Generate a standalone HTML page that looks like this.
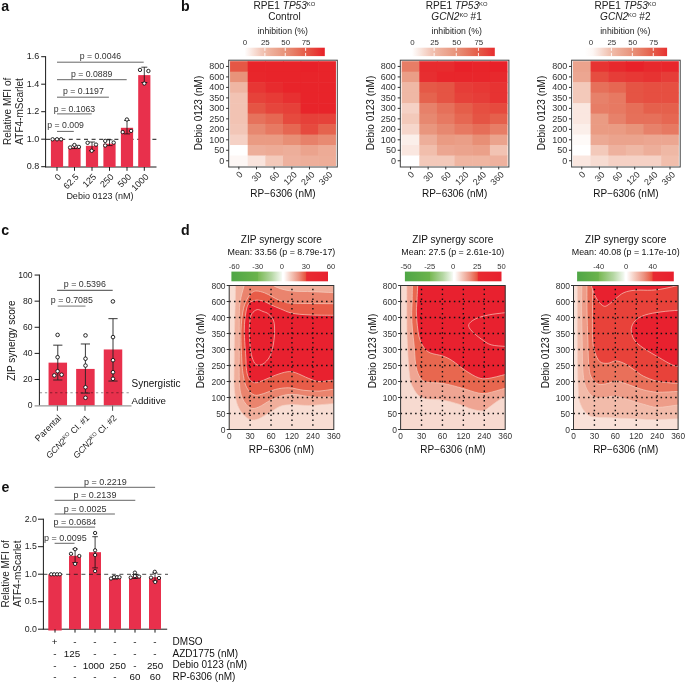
<!DOCTYPE html>
<html><head><meta charset="utf-8"><style>
html,body{margin:0;padding:0;background:#fff;}
svg{display:block;will-change:transform;}
text{font-family:"Liberation Sans", sans-serif;}
</style></head><body>
<svg width="685" height="683" viewBox="0 0 685 683" font-family='"Liberation Sans", sans-serif'>
<defs><linearGradient id="hg0" x1="0" x2="1" y1="0" y2="0"><stop offset="0.00" stop-color="#ffffff"/><stop offset="0.10" stop-color="#f9e4dd"/><stop offset="0.20" stop-color="#f3c9bb"/><stop offset="0.30" stop-color="#efb4a0"/><stop offset="0.40" stop-color="#eba48e"/><stop offset="0.50" stop-color="#e8947b"/><stop offset="0.60" stop-color="#e77f68"/><stop offset="0.70" stop-color="#e66954"/><stop offset="0.80" stop-color="#e55243"/><stop offset="0.90" stop-color="#e73935"/><stop offset="1.00" stop-color="#e82028"/></linearGradient><linearGradient id="hg1" x1="0" x2="1" y1="0" y2="0"><stop offset="0.00" stop-color="#ffffff"/><stop offset="0.10" stop-color="#f9e6df"/><stop offset="0.20" stop-color="#f4ccbf"/><stop offset="0.30" stop-color="#efb6a3"/><stop offset="0.40" stop-color="#eca792"/><stop offset="0.50" stop-color="#e99880"/><stop offset="0.60" stop-color="#e7866e"/><stop offset="0.70" stop-color="#e6715b"/><stop offset="0.80" stop-color="#e55c48"/><stop offset="0.90" stop-color="#e6453c"/><stop offset="1.00" stop-color="#e72d2f"/></linearGradient><linearGradient id="hg2" x1="0" x2="1" y1="0" y2="0"><stop offset="0.00" stop-color="#ffffff"/><stop offset="0.10" stop-color="#fdf7f5"/><stop offset="0.20" stop-color="#f7dcd3"/><stop offset="0.30" stop-color="#f1c2b1"/><stop offset="0.40" stop-color="#eeaf9b"/><stop offset="0.50" stop-color="#ea9f89"/><stop offset="0.60" stop-color="#e88e76"/><stop offset="0.70" stop-color="#e77962"/><stop offset="0.80" stop-color="#e5634e"/><stop offset="0.90" stop-color="#e64b3f"/><stop offset="1.00" stop-color="#e73232"/></linearGradient><clipPath id="dclip0"><rect x="229.20" y="285.5" width="104.6" height="144.0"/></clipPath><linearGradient id="dg0" x1="0" x2="1" y1="0" y2="0"><stop offset="0.000" stop-color="#4FA646"/><stop offset="0.270" stop-color="#6AB34B"/><stop offset="0.278" stop-color="#79B955"/><stop offset="0.414" stop-color="#B5D7A3"/><stop offset="0.519" stop-color="#F4F9F2"/><stop offset="0.527" stop-color="#ffffff"/><stop offset="0.543" stop-color="#ffffff"/><stop offset="0.616" stop-color="#F5CABD"/><stop offset="0.696" stop-color="#EC9280"/><stop offset="0.767" stop-color="#E8553F"/><stop offset="0.779" stop-color="#E82A31"/><stop offset="1.000" stop-color="#E8202E"/></linearGradient><clipPath id="dclip1"><rect x="400.60" y="285.5" width="104.6" height="144.0"/></clipPath><linearGradient id="dg1" x1="0" x2="1" y1="0" y2="0"><stop offset="0.000" stop-color="#4FA646"/><stop offset="0.255" stop-color="#6AB34B"/><stop offset="0.263" stop-color="#79B955"/><stop offset="0.393" stop-color="#B5D7A3"/><stop offset="0.493" stop-color="#F4F9F2"/><stop offset="0.501" stop-color="#ffffff"/><stop offset="0.517" stop-color="#ffffff"/><stop offset="0.593" stop-color="#F5CABD"/><stop offset="0.675" stop-color="#EC9280"/><stop offset="0.749" stop-color="#E8553F"/><stop offset="0.761" stop-color="#E82A31"/><stop offset="1.000" stop-color="#E8202E"/></linearGradient><clipPath id="dclip2"><rect x="573.50" y="285.5" width="104.6" height="144.0"/></clipPath><linearGradient id="dg2" x1="0" x2="1" y1="0" y2="0"><stop offset="0.000" stop-color="#4FA646"/><stop offset="0.220" stop-color="#6AB34B"/><stop offset="0.228" stop-color="#79B955"/><stop offset="0.374" stop-color="#B5D7A3"/><stop offset="0.487" stop-color="#F4F9F2"/><stop offset="0.495" stop-color="#ffffff"/><stop offset="0.511" stop-color="#ffffff"/><stop offset="0.597" stop-color="#F5CABD"/><stop offset="0.690" stop-color="#EC9280"/><stop offset="0.774" stop-color="#E8553F"/><stop offset="0.786" stop-color="#E82A31"/><stop offset="1.000" stop-color="#E8202E"/></linearGradient></defs>
<rect width="685" height="683" fill="#fff"/>
<text x="1.20" y="11.00" font-size="14.2" text-anchor="start" fill="#111" font-weight="bold">a</text>
<text x="181.00" y="11.00" font-size="14.2" text-anchor="start" fill="#111" font-weight="bold">b</text>
<text x="1.20" y="235.30" font-size="14.2" text-anchor="start" fill="#111" font-weight="bold">c</text>
<text x="181.00" y="235.30" font-size="14.2" text-anchor="start" fill="#111" font-weight="bold">d</text>
<text x="1.60" y="491.80" font-size="14.2" text-anchor="start" fill="#111" font-weight="bold">e</text>
<line x1="45.60" y1="56.20" x2="45.60" y2="167.20" stroke="#1a1a1a" stroke-width="1"/>
<line x1="45.10" y1="167.00" x2="156.50" y2="167.00" stroke="#1a1a1a" stroke-width="1"/>
<line x1="41.20" y1="166.70" x2="45.60" y2="166.70" stroke="#1a1a1a" stroke-width="1"/>
<text x="39.30" y="169.30" font-size="9" text-anchor="end" fill="#222">0.8</text>
<line x1="41.20" y1="139.20" x2="45.60" y2="139.20" stroke="#1a1a1a" stroke-width="1"/>
<text x="39.30" y="141.80" font-size="9" text-anchor="end" fill="#222">1.0</text>
<line x1="41.20" y1="111.70" x2="45.60" y2="111.70" stroke="#1a1a1a" stroke-width="1"/>
<text x="39.30" y="114.30" font-size="9" text-anchor="end" fill="#222">1.2</text>
<line x1="41.20" y1="84.20" x2="45.60" y2="84.20" stroke="#1a1a1a" stroke-width="1"/>
<text x="39.30" y="86.80" font-size="9" text-anchor="end" fill="#222">1.4</text>
<line x1="41.20" y1="56.70" x2="45.60" y2="56.70" stroke="#1a1a1a" stroke-width="1"/>
<text x="39.30" y="59.30" font-size="9" text-anchor="end" fill="#222">1.6</text>
<line x1="46.00" y1="139.30" x2="160.00" y2="139.30" stroke="#1a1a1a" stroke-width="1" stroke-dasharray="4 3.6"/>
<rect x="50.90" y="139.20" width="12.20" height="27.80" fill="#E8304C"/>
<rect x="68.40" y="147.45" width="12.20" height="19.55" fill="#E8304C"/>
<rect x="85.90" y="145.80" width="12.20" height="21.20" fill="#E8304C"/>
<rect x="103.40" y="143.74" width="12.20" height="23.26" fill="#E8304C"/>
<rect x="120.90" y="127.79" width="12.20" height="39.21" fill="#E8304C"/>
<rect x="138.20" y="75.12" width="12.20" height="91.88" fill="#E8304C"/>
<line x1="74.50" y1="145.30" x2="74.50" y2="148.60" stroke="#111" stroke-width="0.8"/>
<line x1="71.50" y1="145.30" x2="77.50" y2="145.30" stroke="#111" stroke-width="0.8"/>
<line x1="71.50" y1="148.60" x2="77.50" y2="148.60" stroke="#111" stroke-width="0.8"/>
<line x1="92.00" y1="142.00" x2="92.00" y2="150.60" stroke="#111" stroke-width="0.8"/>
<line x1="89.00" y1="142.00" x2="95.00" y2="142.00" stroke="#111" stroke-width="0.8"/>
<line x1="89.00" y1="150.60" x2="95.00" y2="150.60" stroke="#111" stroke-width="0.8"/>
<line x1="109.50" y1="139.80" x2="109.50" y2="145.60" stroke="#111" stroke-width="0.8"/>
<line x1="106.50" y1="139.80" x2="112.50" y2="139.80" stroke="#111" stroke-width="0.8"/>
<line x1="106.50" y1="145.60" x2="112.50" y2="145.60" stroke="#111" stroke-width="0.8"/>
<line x1="127.00" y1="120.40" x2="127.00" y2="133.90" stroke="#111" stroke-width="0.8"/>
<line x1="124.00" y1="120.40" x2="130.00" y2="120.40" stroke="#111" stroke-width="0.8"/>
<line x1="124.00" y1="133.90" x2="130.00" y2="133.90" stroke="#111" stroke-width="0.8"/>
<line x1="144.30" y1="67.20" x2="144.30" y2="82.50" stroke="#111" stroke-width="0.8"/>
<line x1="141.30" y1="67.20" x2="147.30" y2="67.20" stroke="#111" stroke-width="0.8"/>
<line x1="141.30" y1="82.50" x2="147.30" y2="82.50" stroke="#111" stroke-width="0.8"/>
<circle cx="52.60" cy="139.30" r="1.7" fill="#fff" stroke="#111" stroke-width="0.9"/>
<circle cx="57.00" cy="139.30" r="1.7" fill="#fff" stroke="#111" stroke-width="0.9"/>
<circle cx="61.10" cy="139.30" r="1.7" fill="#fff" stroke="#111" stroke-width="0.9"/>
<circle cx="70.10" cy="147.50" r="1.7" fill="#fff" stroke="#111" stroke-width="0.9"/>
<circle cx="74.40" cy="145.00" r="1.7" fill="#fff" stroke="#111" stroke-width="0.9"/>
<circle cx="78.90" cy="146.90" r="1.7" fill="#fff" stroke="#111" stroke-width="0.9"/>
<circle cx="87.60" cy="142.80" r="1.7" fill="#fff" stroke="#111" stroke-width="0.9"/>
<circle cx="96.00" cy="144.60" r="1.7" fill="#fff" stroke="#111" stroke-width="0.9"/>
<circle cx="91.70" cy="150.80" r="1.7" fill="#fff" stroke="#111" stroke-width="0.9"/>
<circle cx="105.20" cy="140.90" r="1.7" fill="#fff" stroke="#111" stroke-width="0.9"/>
<circle cx="105.20" cy="145.50" r="1.7" fill="#fff" stroke="#111" stroke-width="0.9"/>
<circle cx="113.70" cy="142.60" r="1.7" fill="#fff" stroke="#111" stroke-width="0.9"/>
<circle cx="126.90" cy="119.50" r="1.7" fill="#fff" stroke="#111" stroke-width="0.9"/>
<circle cx="122.70" cy="132.10" r="1.7" fill="#fff" stroke="#111" stroke-width="0.9"/>
<circle cx="131.10" cy="130.90" r="1.7" fill="#fff" stroke="#111" stroke-width="0.9"/>
<circle cx="140.00" cy="69.90" r="1.7" fill="#fff" stroke="#111" stroke-width="0.9"/>
<circle cx="148.40" cy="71.00" r="1.7" fill="#fff" stroke="#111" stroke-width="0.9"/>
<circle cx="144.30" cy="83.50" r="1.7" fill="#fff" stroke="#111" stroke-width="0.9"/>
<line x1="57.00" y1="62.20" x2="143.70" y2="62.20" stroke="#666" stroke-width="1"/>
<text x="100.50" y="59.00" font-size="8.7" text-anchor="middle" fill="#333">p = 0.0046</text>
<line x1="57.00" y1="79.70" x2="126.70" y2="79.70" stroke="#666" stroke-width="1"/>
<text x="91.70" y="76.50" font-size="8.7" text-anchor="middle" fill="#333">p = 0.0889</text>
<line x1="57.00" y1="97.20" x2="108.90" y2="97.20" stroke="#666" stroke-width="1"/>
<text x="83.40" y="94.10" font-size="8.7" text-anchor="middle" fill="#333">p = 0.1197</text>
<line x1="57.00" y1="113.90" x2="91.70" y2="113.90" stroke="#666" stroke-width="1"/>
<text x="74.50" y="111.60" font-size="8.7" text-anchor="middle" fill="#333">p = 0.1063</text>
<line x1="57.00" y1="131.40" x2="73.80" y2="131.40" stroke="#666" stroke-width="1"/>
<text x="65.60" y="128.30" font-size="8.7" text-anchor="middle" fill="#333">p = 0.009</text>
<line x1="57.00" y1="167.00" x2="57.00" y2="170.80" stroke="#1a1a1a" stroke-width="1"/>
<text x="61.90" y="177.40" font-size="9" text-anchor="end" fill="#222" transform="rotate(-45 61.90 177.40)">0</text>
<line x1="74.50" y1="167.00" x2="74.50" y2="170.80" stroke="#1a1a1a" stroke-width="1"/>
<text x="79.40" y="177.40" font-size="9" text-anchor="end" fill="#222" transform="rotate(-45 79.40 177.40)">62.5</text>
<line x1="92.00" y1="167.00" x2="92.00" y2="170.80" stroke="#1a1a1a" stroke-width="1"/>
<text x="96.90" y="177.40" font-size="9" text-anchor="end" fill="#222" transform="rotate(-45 96.90 177.40)">125</text>
<line x1="109.50" y1="167.00" x2="109.50" y2="170.80" stroke="#1a1a1a" stroke-width="1"/>
<text x="114.40" y="177.40" font-size="9" text-anchor="end" fill="#222" transform="rotate(-45 114.40 177.40)">250</text>
<line x1="127.00" y1="167.00" x2="127.00" y2="170.80" stroke="#1a1a1a" stroke-width="1"/>
<text x="131.90" y="177.40" font-size="9" text-anchor="end" fill="#222" transform="rotate(-45 131.90 177.40)">500</text>
<line x1="144.30" y1="167.00" x2="144.30" y2="170.80" stroke="#1a1a1a" stroke-width="1"/>
<text x="149.20" y="177.40" font-size="9" text-anchor="end" fill="#222" transform="rotate(-45 149.20 177.40)">1000</text>
<text x="99.90" y="198.50" font-size="9.0" text-anchor="middle" fill="#222">Debio 0123 (nM)</text>
<text x="11.20" y="111.40" font-size="10" text-anchor="middle" fill="#222" transform="rotate(-90 11.20 111.40)">Relative MFI of</text>
<text x="22.60" y="111.40" font-size="10" text-anchor="middle" fill="#222" transform="rotate(-90 22.60 111.40)">ATF4-mScarlet</text>
<rect x="230.05" y="61.20" width="18.25" height="11.08" fill="#e55745"/>
<rect x="247.70" y="61.20" width="18.25" height="11.08" fill="#e8242a"/>
<rect x="265.35" y="61.20" width="18.25" height="11.08" fill="#e8242a"/>
<rect x="283.00" y="61.20" width="18.25" height="11.08" fill="#e8242a"/>
<rect x="300.65" y="61.20" width="18.25" height="11.08" fill="#e82129"/>
<rect x="318.30" y="61.20" width="17.65" height="11.08" fill="#e8242a"/>
<rect x="230.05" y="71.68" width="18.25" height="11.08" fill="#e8937a"/>
<rect x="247.70" y="71.68" width="18.25" height="11.08" fill="#e8262b"/>
<rect x="265.35" y="71.68" width="18.25" height="11.08" fill="#e8242a"/>
<rect x="283.00" y="71.68" width="18.25" height="11.08" fill="#e8242a"/>
<rect x="300.65" y="71.68" width="18.25" height="11.08" fill="#e8242a"/>
<rect x="318.30" y="71.68" width="17.65" height="11.08" fill="#e8242a"/>
<rect x="230.05" y="82.16" width="18.25" height="11.08" fill="#efb6a3"/>
<rect x="247.70" y="82.16" width="18.25" height="11.08" fill="#e73634"/>
<rect x="265.35" y="82.16" width="18.25" height="11.08" fill="#e72b2e"/>
<rect x="283.00" y="82.16" width="18.25" height="11.08" fill="#e8242a"/>
<rect x="300.65" y="82.16" width="18.25" height="11.08" fill="#e8242a"/>
<rect x="318.30" y="82.16" width="17.65" height="11.08" fill="#e8242a"/>
<rect x="230.05" y="92.64" width="18.25" height="11.08" fill="#f2c3b3"/>
<rect x="247.70" y="92.64" width="18.25" height="11.08" fill="#e6423a"/>
<rect x="265.35" y="92.64" width="18.25" height="11.08" fill="#e73b36"/>
<rect x="283.00" y="92.64" width="18.25" height="11.08" fill="#e73031"/>
<rect x="300.65" y="92.64" width="18.25" height="11.08" fill="#e8242a"/>
<rect x="318.30" y="92.64" width="17.65" height="11.08" fill="#e8242a"/>
<rect x="230.05" y="103.12" width="18.25" height="11.08" fill="#f2c3b3"/>
<rect x="247.70" y="103.12" width="18.25" height="11.08" fill="#e55444"/>
<rect x="265.35" y="103.12" width="18.25" height="11.08" fill="#e6453c"/>
<rect x="283.00" y="103.12" width="18.25" height="11.08" fill="#e64039"/>
<rect x="300.65" y="103.12" width="18.25" height="11.08" fill="#e8242a"/>
<rect x="318.30" y="103.12" width="17.65" height="11.08" fill="#e8242a"/>
<rect x="230.05" y="113.60" width="18.25" height="11.08" fill="#f2c3b3"/>
<rect x="247.70" y="113.60" width="18.25" height="11.08" fill="#e6725c"/>
<rect x="265.35" y="113.60" width="18.25" height="11.08" fill="#e66752"/>
<rect x="283.00" y="113.60" width="18.25" height="11.08" fill="#e64a3e"/>
<rect x="300.65" y="113.60" width="18.25" height="11.08" fill="#e64039"/>
<rect x="318.30" y="113.60" width="17.65" height="11.08" fill="#e6423a"/>
<rect x="230.05" y="124.08" width="18.25" height="11.08" fill="#f2c6b7"/>
<rect x="247.70" y="124.08" width="18.25" height="11.08" fill="#e78870"/>
<rect x="265.35" y="124.08" width="18.25" height="11.08" fill="#e77962"/>
<rect x="283.00" y="124.08" width="18.25" height="11.08" fill="#e66752"/>
<rect x="300.65" y="124.08" width="18.25" height="11.08" fill="#e64a3e"/>
<rect x="318.30" y="124.08" width="17.65" height="11.08" fill="#e5634e"/>
<rect x="230.05" y="134.56" width="18.25" height="11.08" fill="#f5d1c5"/>
<rect x="247.70" y="134.56" width="18.25" height="11.08" fill="#ea9b83"/>
<rect x="265.35" y="134.56" width="18.25" height="11.08" fill="#ea9b83"/>
<rect x="283.00" y="134.56" width="18.25" height="11.08" fill="#e88f76"/>
<rect x="300.65" y="134.56" width="18.25" height="11.08" fill="#e7816a"/>
<rect x="318.30" y="134.56" width="17.65" height="11.08" fill="#e88a72"/>
<rect x="230.05" y="145.04" width="18.25" height="11.08" fill="#ffffff"/>
<rect x="247.70" y="145.04" width="18.25" height="11.08" fill="#edae9a"/>
<rect x="265.35" y="145.04" width="18.25" height="11.08" fill="#edab96"/>
<rect x="283.00" y="145.04" width="18.25" height="11.08" fill="#edae9a"/>
<rect x="300.65" y="145.04" width="18.25" height="11.08" fill="#eba38d"/>
<rect x="318.30" y="145.04" width="17.65" height="11.08" fill="#edab96"/>
<rect x="230.05" y="155.52" width="18.25" height="10.48" fill="#fdf7f5"/>
<rect x="247.70" y="155.52" width="18.25" height="10.48" fill="#f9e4dd"/>
<rect x="265.35" y="155.52" width="18.25" height="10.48" fill="#f3c9ba"/>
<rect x="283.00" y="155.52" width="18.25" height="10.48" fill="#eeb19e"/>
<rect x="300.65" y="155.52" width="18.25" height="10.48" fill="#edae9a"/>
<rect x="318.30" y="155.52" width="17.65" height="10.48" fill="#edad98"/>
<rect x="228.70" y="60.2" width="108.6" height="106.8" fill="none" stroke="#404040" stroke-width="1"/>
<line x1="226.10" y1="66.44" x2="228.70" y2="66.44" stroke="#333" stroke-width="1"/>
<text x="224.30" y="69.24" font-size="9" text-anchor="end" fill="#333">800</text>
<line x1="226.10" y1="76.92" x2="228.70" y2="76.92" stroke="#333" stroke-width="1"/>
<text x="224.30" y="79.72" font-size="9" text-anchor="end" fill="#333">600</text>
<line x1="226.10" y1="87.40" x2="228.70" y2="87.40" stroke="#333" stroke-width="1"/>
<text x="224.30" y="90.20" font-size="9" text-anchor="end" fill="#333">400</text>
<line x1="226.10" y1="97.88" x2="228.70" y2="97.88" stroke="#333" stroke-width="1"/>
<text x="224.30" y="100.68" font-size="9" text-anchor="end" fill="#333">350</text>
<line x1="226.10" y1="108.36" x2="228.70" y2="108.36" stroke="#333" stroke-width="1"/>
<text x="224.30" y="111.16" font-size="9" text-anchor="end" fill="#333">300</text>
<line x1="226.10" y1="118.84" x2="228.70" y2="118.84" stroke="#333" stroke-width="1"/>
<text x="224.30" y="121.64" font-size="9" text-anchor="end" fill="#333">250</text>
<line x1="226.10" y1="129.32" x2="228.70" y2="129.32" stroke="#333" stroke-width="1"/>
<text x="224.30" y="132.12" font-size="9" text-anchor="end" fill="#333">200</text>
<line x1="226.10" y1="139.80" x2="228.70" y2="139.80" stroke="#333" stroke-width="1"/>
<text x="224.30" y="142.60" font-size="9" text-anchor="end" fill="#333">100</text>
<line x1="226.10" y1="150.28" x2="228.70" y2="150.28" stroke="#333" stroke-width="1"/>
<text x="224.30" y="153.08" font-size="9" text-anchor="end" fill="#333">50</text>
<line x1="226.10" y1="160.76" x2="228.70" y2="160.76" stroke="#333" stroke-width="1"/>
<text x="224.30" y="163.56" font-size="9" text-anchor="end" fill="#333">0</text>
<line x1="238.87" y1="166.80" x2="238.87" y2="169.40" stroke="#333" stroke-width="1"/>
<text x="243.17" y="174.90" font-size="8.9" text-anchor="end" fill="#333" transform="rotate(-45 243.17 174.90)">0</text>
<line x1="256.52" y1="166.80" x2="256.52" y2="169.40" stroke="#333" stroke-width="1"/>
<text x="262.32" y="175.20" font-size="8.9" text-anchor="end" fill="#333" transform="rotate(-45 262.32 175.20)">30</text>
<line x1="274.17" y1="166.80" x2="274.17" y2="169.40" stroke="#333" stroke-width="1"/>
<text x="279.97" y="175.20" font-size="8.9" text-anchor="end" fill="#333" transform="rotate(-45 279.97 175.20)">60</text>
<line x1="291.82" y1="166.80" x2="291.82" y2="169.40" stroke="#333" stroke-width="1"/>
<text x="297.62" y="175.20" font-size="8.9" text-anchor="end" fill="#333" transform="rotate(-45 297.62 175.20)">120</text>
<line x1="309.47" y1="166.80" x2="309.47" y2="169.40" stroke="#333" stroke-width="1"/>
<text x="315.27" y="175.20" font-size="8.9" text-anchor="end" fill="#333" transform="rotate(-45 315.27 175.20)">240</text>
<line x1="327.12" y1="166.80" x2="327.12" y2="169.40" stroke="#333" stroke-width="1"/>
<text x="332.93" y="175.20" font-size="8.9" text-anchor="end" fill="#333" transform="rotate(-45 332.93 175.20)">360</text>
<text x="283.00" y="196.90" font-size="10" text-anchor="middle" fill="#111">RP−6306 (nM)</text>
<text x="202.00" y="113.00" font-size="10.0" text-anchor="middle" fill="#111" transform="rotate(-90 202.00 113.00)">Debio 0123 (nM)</text>
<text x="284.40" y="8.80" font-size="10.1" text-anchor="middle" fill="#222">RPE1 <tspan font-style="italic">TP53</tspan><tspan font-size="5.8" dy="-3.3">KO</tspan></text>
<text x="284.40" y="20.10" font-size="10.1" text-anchor="middle" fill="#222">Control</text>
<text x="282.80" y="34.20" font-size="8.7" text-anchor="middle" fill="#222">inhibition (%)</text>
<rect x="244.50" y="47.70" width="80.30" height="8.40" fill="url(#hg0)"/>
<text x="244.90" y="44.70" font-size="7.9" text-anchor="middle" fill="#333">0</text>
<line x1="264.88" y1="47.70" x2="264.88" y2="50.90" stroke="#fff" stroke-width="0.9"/>
<line x1="264.88" y1="52.90" x2="264.88" y2="56.10" stroke="#fff" stroke-width="0.9"/>
<text x="265.28" y="44.70" font-size="7.9" text-anchor="middle" fill="#333">25</text>
<line x1="285.26" y1="47.70" x2="285.26" y2="50.90" stroke="#fff" stroke-width="0.9"/>
<line x1="285.26" y1="52.90" x2="285.26" y2="56.10" stroke="#fff" stroke-width="0.9"/>
<text x="285.66" y="44.70" font-size="7.9" text-anchor="middle" fill="#333">50</text>
<line x1="305.64" y1="47.70" x2="305.64" y2="50.90" stroke="#fff" stroke-width="0.9"/>
<line x1="305.64" y1="52.90" x2="305.64" y2="56.10" stroke="#fff" stroke-width="0.9"/>
<text x="306.04" y="44.70" font-size="7.9" text-anchor="middle" fill="#333">75</text>
<rect x="401.65" y="61.20" width="18.25" height="11.08" fill="#e77d66"/>
<rect x="419.30" y="61.20" width="18.25" height="11.08" fill="#e72b2e"/>
<rect x="436.95" y="61.20" width="18.25" height="11.08" fill="#e72b2e"/>
<rect x="454.60" y="61.20" width="18.25" height="11.08" fill="#e82129"/>
<rect x="472.25" y="61.20" width="18.25" height="11.08" fill="#e8242a"/>
<rect x="489.90" y="61.20" width="17.65" height="11.08" fill="#e82129"/>
<rect x="401.65" y="71.68" width="18.25" height="11.08" fill="#ea9e87"/>
<rect x="419.30" y="71.68" width="18.25" height="11.08" fill="#e72e30"/>
<rect x="436.95" y="71.68" width="18.25" height="11.08" fill="#e8262b"/>
<rect x="454.60" y="71.68" width="18.25" height="11.08" fill="#e8262b"/>
<rect x="472.25" y="71.68" width="18.25" height="11.08" fill="#e8262b"/>
<rect x="489.90" y="71.68" width="17.65" height="11.08" fill="#e7292d"/>
<rect x="401.65" y="82.16" width="18.25" height="11.08" fill="#efb8a5"/>
<rect x="419.30" y="82.16" width="18.25" height="11.08" fill="#e55947"/>
<rect x="436.95" y="82.16" width="18.25" height="11.08" fill="#e55444"/>
<rect x="454.60" y="82.16" width="18.25" height="11.08" fill="#e63d38"/>
<rect x="472.25" y="82.16" width="18.25" height="11.08" fill="#e73835"/>
<rect x="489.90" y="82.16" width="17.65" height="11.08" fill="#e73332"/>
<rect x="401.65" y="92.64" width="18.25" height="11.08" fill="#efb8a5"/>
<rect x="419.30" y="92.64" width="18.25" height="11.08" fill="#e5634e"/>
<rect x="436.95" y="92.64" width="18.25" height="11.08" fill="#e55444"/>
<rect x="454.60" y="92.64" width="18.25" height="11.08" fill="#e6423a"/>
<rect x="472.25" y="92.64" width="18.25" height="11.08" fill="#e63d38"/>
<rect x="489.90" y="92.64" width="17.65" height="11.08" fill="#e73332"/>
<rect x="401.65" y="103.12" width="18.25" height="11.08" fill="#f5d1c5"/>
<rect x="419.30" y="103.12" width="18.25" height="11.08" fill="#e7816a"/>
<rect x="436.95" y="103.12" width="18.25" height="11.08" fill="#e6705a"/>
<rect x="454.60" y="103.12" width="18.25" height="11.08" fill="#e55e4a"/>
<rect x="472.25" y="103.12" width="18.25" height="11.08" fill="#e64f41"/>
<rect x="489.90" y="103.12" width="17.65" height="11.08" fill="#e64a3e"/>
<rect x="401.65" y="113.60" width="18.25" height="11.08" fill="#f3c9ba"/>
<rect x="419.30" y="113.60" width="18.25" height="11.08" fill="#e78870"/>
<rect x="436.95" y="113.60" width="18.25" height="11.08" fill="#e77962"/>
<rect x="454.60" y="113.60" width="18.25" height="11.08" fill="#e66752"/>
<rect x="472.25" y="113.60" width="18.25" height="11.08" fill="#e55444"/>
<rect x="489.90" y="113.60" width="17.65" height="11.08" fill="#e5604c"/>
<rect x="401.65" y="124.08" width="18.25" height="11.08" fill="#f6d6cb"/>
<rect x="419.30" y="124.08" width="18.25" height="11.08" fill="#e9967e"/>
<rect x="436.95" y="124.08" width="18.25" height="11.08" fill="#e78870"/>
<rect x="454.60" y="124.08" width="18.25" height="11.08" fill="#e77962"/>
<rect x="472.25" y="124.08" width="18.25" height="11.08" fill="#e66e58"/>
<rect x="489.90" y="124.08" width="17.65" height="11.08" fill="#e77d66"/>
<rect x="401.65" y="134.56" width="18.25" height="11.08" fill="#fbefea"/>
<rect x="419.30" y="134.56" width="18.25" height="11.08" fill="#edae9a"/>
<rect x="436.95" y="134.56" width="18.25" height="11.08" fill="#ea9b83"/>
<rect x="454.60" y="134.56" width="18.25" height="11.08" fill="#ea9e87"/>
<rect x="472.25" y="134.56" width="18.25" height="11.08" fill="#e88f76"/>
<rect x="489.90" y="134.56" width="17.65" height="11.08" fill="#eba38d"/>
<rect x="401.65" y="145.04" width="18.25" height="11.08" fill="#fae7e0"/>
<rect x="419.30" y="145.04" width="18.25" height="11.08" fill="#f1beac"/>
<rect x="436.95" y="145.04" width="18.25" height="11.08" fill="#eca691"/>
<rect x="454.60" y="145.04" width="18.25" height="11.08" fill="#eba38d"/>
<rect x="472.25" y="145.04" width="18.25" height="11.08" fill="#eba089"/>
<rect x="489.90" y="145.04" width="17.65" height="11.08" fill="#f2c3b3"/>
<rect x="401.65" y="155.52" width="18.25" height="10.48" fill="#ffffff"/>
<rect x="419.30" y="155.52" width="18.25" height="10.48" fill="#f3c9ba"/>
<rect x="436.95" y="155.52" width="18.25" height="10.48" fill="#f3c9ba"/>
<rect x="454.60" y="155.52" width="18.25" height="10.48" fill="#efb5a1"/>
<rect x="472.25" y="155.52" width="18.25" height="10.48" fill="#efb5a1"/>
<rect x="489.90" y="155.52" width="17.65" height="10.48" fill="#eeb19e"/>
<rect x="400.30" y="60.2" width="108.6" height="106.8" fill="none" stroke="#404040" stroke-width="1"/>
<line x1="397.70" y1="66.44" x2="400.30" y2="66.44" stroke="#333" stroke-width="1"/>
<text x="395.90" y="69.24" font-size="9" text-anchor="end" fill="#333">800</text>
<line x1="397.70" y1="76.92" x2="400.30" y2="76.92" stroke="#333" stroke-width="1"/>
<text x="395.90" y="79.72" font-size="9" text-anchor="end" fill="#333">600</text>
<line x1="397.70" y1="87.40" x2="400.30" y2="87.40" stroke="#333" stroke-width="1"/>
<text x="395.90" y="90.20" font-size="9" text-anchor="end" fill="#333">400</text>
<line x1="397.70" y1="97.88" x2="400.30" y2="97.88" stroke="#333" stroke-width="1"/>
<text x="395.90" y="100.68" font-size="9" text-anchor="end" fill="#333">350</text>
<line x1="397.70" y1="108.36" x2="400.30" y2="108.36" stroke="#333" stroke-width="1"/>
<text x="395.90" y="111.16" font-size="9" text-anchor="end" fill="#333">300</text>
<line x1="397.70" y1="118.84" x2="400.30" y2="118.84" stroke="#333" stroke-width="1"/>
<text x="395.90" y="121.64" font-size="9" text-anchor="end" fill="#333">250</text>
<line x1="397.70" y1="129.32" x2="400.30" y2="129.32" stroke="#333" stroke-width="1"/>
<text x="395.90" y="132.12" font-size="9" text-anchor="end" fill="#333">200</text>
<line x1="397.70" y1="139.80" x2="400.30" y2="139.80" stroke="#333" stroke-width="1"/>
<text x="395.90" y="142.60" font-size="9" text-anchor="end" fill="#333">100</text>
<line x1="397.70" y1="150.28" x2="400.30" y2="150.28" stroke="#333" stroke-width="1"/>
<text x="395.90" y="153.08" font-size="9" text-anchor="end" fill="#333">50</text>
<line x1="397.70" y1="160.76" x2="400.30" y2="160.76" stroke="#333" stroke-width="1"/>
<text x="395.90" y="163.56" font-size="9" text-anchor="end" fill="#333">0</text>
<line x1="410.48" y1="166.80" x2="410.48" y2="169.40" stroke="#333" stroke-width="1"/>
<text x="414.78" y="174.90" font-size="8.9" text-anchor="end" fill="#333" transform="rotate(-45 414.78 174.90)">0</text>
<line x1="428.13" y1="166.80" x2="428.13" y2="169.40" stroke="#333" stroke-width="1"/>
<text x="433.93" y="175.20" font-size="8.9" text-anchor="end" fill="#333" transform="rotate(-45 433.93 175.20)">30</text>
<line x1="445.78" y1="166.80" x2="445.78" y2="169.40" stroke="#333" stroke-width="1"/>
<text x="451.58" y="175.20" font-size="8.9" text-anchor="end" fill="#333" transform="rotate(-45 451.58 175.20)">60</text>
<line x1="463.43" y1="166.80" x2="463.43" y2="169.40" stroke="#333" stroke-width="1"/>
<text x="469.23" y="175.20" font-size="8.9" text-anchor="end" fill="#333" transform="rotate(-45 469.23 175.20)">120</text>
<line x1="481.08" y1="166.80" x2="481.08" y2="169.40" stroke="#333" stroke-width="1"/>
<text x="486.88" y="175.20" font-size="8.9" text-anchor="end" fill="#333" transform="rotate(-45 486.88 175.20)">240</text>
<line x1="498.73" y1="166.80" x2="498.73" y2="169.40" stroke="#333" stroke-width="1"/>
<text x="504.53" y="175.20" font-size="8.9" text-anchor="end" fill="#333" transform="rotate(-45 504.53 175.20)">360</text>
<text x="454.60" y="196.90" font-size="10" text-anchor="middle" fill="#111">RP−6306 (nM)</text>
<text x="373.60" y="113.00" font-size="10.0" text-anchor="middle" fill="#111" transform="rotate(-90 373.60 113.00)">Debio 0123 (nM)</text>
<text x="456.60" y="8.80" font-size="10.1" text-anchor="middle" fill="#222">RPE1 <tspan font-style="italic">TP53</tspan><tspan font-size="5.8" dy="-3.3">KO</tspan></text>
<text x="456.60" y="20.10" font-size="10.1" text-anchor="middle" fill="#222"><tspan font-style="italic">GCN2</tspan><tspan font-size="5.8" dy="-3.3">KO</tspan><tspan dy="3.3"> #1</tspan></text>
<text x="456.70" y="34.20" font-size="8.7" text-anchor="middle" fill="#222">inhibition (%)</text>
<rect x="412.00" y="47.70" width="82.80" height="8.40" fill="url(#hg1)"/>
<text x="412.40" y="44.70" font-size="7.9" text-anchor="middle" fill="#333">0</text>
<line x1="434.14" y1="47.70" x2="434.14" y2="50.90" stroke="#fff" stroke-width="0.9"/>
<line x1="434.14" y1="52.90" x2="434.14" y2="56.10" stroke="#fff" stroke-width="0.9"/>
<text x="434.54" y="44.70" font-size="7.9" text-anchor="middle" fill="#333">25</text>
<line x1="456.28" y1="47.70" x2="456.28" y2="50.90" stroke="#fff" stroke-width="0.9"/>
<line x1="456.28" y1="52.90" x2="456.28" y2="56.10" stroke="#fff" stroke-width="0.9"/>
<text x="456.68" y="44.70" font-size="7.9" text-anchor="middle" fill="#333">50</text>
<line x1="478.42" y1="47.70" x2="478.42" y2="50.90" stroke="#fff" stroke-width="0.9"/>
<line x1="478.42" y1="52.90" x2="478.42" y2="56.10" stroke="#fff" stroke-width="0.9"/>
<text x="478.82" y="44.70" font-size="7.9" text-anchor="middle" fill="#333">75</text>
<rect x="572.95" y="61.20" width="18.25" height="11.08" fill="#eba38d"/>
<rect x="590.60" y="61.20" width="18.25" height="11.08" fill="#e73332"/>
<rect x="608.25" y="61.20" width="18.25" height="11.08" fill="#e7292d"/>
<rect x="625.90" y="61.20" width="18.25" height="11.08" fill="#e82129"/>
<rect x="643.55" y="61.20" width="18.25" height="11.08" fill="#e7292d"/>
<rect x="661.20" y="61.20" width="17.65" height="11.08" fill="#e8262b"/>
<rect x="572.95" y="71.68" width="18.25" height="11.08" fill="#eca691"/>
<rect x="590.60" y="71.68" width="18.25" height="11.08" fill="#e64d40"/>
<rect x="608.25" y="71.68" width="18.25" height="11.08" fill="#e63d38"/>
<rect x="625.90" y="71.68" width="18.25" height="11.08" fill="#e73835"/>
<rect x="643.55" y="71.68" width="18.25" height="11.08" fill="#e73332"/>
<rect x="661.20" y="71.68" width="17.65" height="11.08" fill="#e63d38"/>
<rect x="572.95" y="82.16" width="18.25" height="11.08" fill="#f3c9ba"/>
<rect x="590.60" y="82.16" width="18.25" height="11.08" fill="#e6705a"/>
<rect x="608.25" y="82.16" width="18.25" height="11.08" fill="#e66752"/>
<rect x="625.90" y="82.16" width="18.25" height="11.08" fill="#e55444"/>
<rect x="643.55" y="82.16" width="18.25" height="11.08" fill="#e64f41"/>
<rect x="661.20" y="82.16" width="17.65" height="11.08" fill="#e64f41"/>
<rect x="572.95" y="92.64" width="18.25" height="11.08" fill="#f3c9ba"/>
<rect x="590.60" y="92.64" width="18.25" height="11.08" fill="#e7816a"/>
<rect x="608.25" y="92.64" width="18.25" height="11.08" fill="#e77962"/>
<rect x="625.90" y="92.64" width="18.25" height="11.08" fill="#e55444"/>
<rect x="643.55" y="92.64" width="18.25" height="11.08" fill="#e64f41"/>
<rect x="661.20" y="92.64" width="17.65" height="11.08" fill="#e64f41"/>
<rect x="572.95" y="103.12" width="18.25" height="11.08" fill="#fae7e0"/>
<rect x="590.60" y="103.12" width="18.25" height="11.08" fill="#e77d66"/>
<rect x="608.25" y="103.12" width="18.25" height="11.08" fill="#e77962"/>
<rect x="625.90" y="103.12" width="18.25" height="11.08" fill="#e66e58"/>
<rect x="643.55" y="103.12" width="18.25" height="11.08" fill="#e5604c"/>
<rect x="661.20" y="103.12" width="17.65" height="11.08" fill="#e5604c"/>
<rect x="572.95" y="113.60" width="18.25" height="11.08" fill="#fae7e0"/>
<rect x="590.60" y="113.60" width="18.25" height="11.08" fill="#ea9b83"/>
<rect x="608.25" y="113.60" width="18.25" height="11.08" fill="#e7816a"/>
<rect x="625.90" y="113.60" width="18.25" height="11.08" fill="#e6705a"/>
<rect x="643.55" y="113.60" width="18.25" height="11.08" fill="#e6705a"/>
<rect x="661.20" y="113.60" width="17.65" height="11.08" fill="#e66752"/>
<rect x="572.95" y="124.08" width="18.25" height="11.08" fill="#fbefea"/>
<rect x="590.60" y="124.08" width="18.25" height="11.08" fill="#ea9b83"/>
<rect x="608.25" y="124.08" width="18.25" height="11.08" fill="#ea9b83"/>
<rect x="625.90" y="124.08" width="18.25" height="11.08" fill="#e8937a"/>
<rect x="643.55" y="124.08" width="18.25" height="11.08" fill="#e7816a"/>
<rect x="661.20" y="124.08" width="17.65" height="11.08" fill="#e77962"/>
<rect x="572.95" y="134.56" width="18.25" height="11.08" fill="#fefaf8"/>
<rect x="590.60" y="134.56" width="18.25" height="11.08" fill="#eca994"/>
<rect x="608.25" y="134.56" width="18.25" height="11.08" fill="#eba38d"/>
<rect x="625.90" y="134.56" width="18.25" height="11.08" fill="#eba38d"/>
<rect x="643.55" y="134.56" width="18.25" height="11.08" fill="#eca691"/>
<rect x="661.20" y="134.56" width="17.65" height="11.08" fill="#eca691"/>
<rect x="572.95" y="145.04" width="18.25" height="11.08" fill="#ffffff"/>
<rect x="590.60" y="145.04" width="18.25" height="11.08" fill="#f3c9ba"/>
<rect x="608.25" y="145.04" width="18.25" height="11.08" fill="#eeb19e"/>
<rect x="625.90" y="145.04" width="18.25" height="11.08" fill="#efb8a5"/>
<rect x="643.55" y="145.04" width="18.25" height="11.08" fill="#edae9a"/>
<rect x="661.20" y="145.04" width="17.65" height="11.08" fill="#efb8a5"/>
<rect x="572.95" y="155.52" width="18.25" height="10.48" fill="#fae7e0"/>
<rect x="590.60" y="155.52" width="18.25" height="10.48" fill="#f7dcd2"/>
<rect x="608.25" y="155.52" width="18.25" height="10.48" fill="#f5d1c5"/>
<rect x="625.90" y="155.52" width="18.25" height="10.48" fill="#f5d1c5"/>
<rect x="643.55" y="155.52" width="18.25" height="10.48" fill="#f5d1c5"/>
<rect x="661.20" y="155.52" width="17.65" height="10.48" fill="#f1beac"/>
<rect x="571.60" y="60.2" width="108.6" height="106.8" fill="none" stroke="#404040" stroke-width="1"/>
<line x1="569.00" y1="66.44" x2="571.60" y2="66.44" stroke="#333" stroke-width="1"/>
<text x="567.20" y="69.24" font-size="9" text-anchor="end" fill="#333">800</text>
<line x1="569.00" y1="76.92" x2="571.60" y2="76.92" stroke="#333" stroke-width="1"/>
<text x="567.20" y="79.72" font-size="9" text-anchor="end" fill="#333">600</text>
<line x1="569.00" y1="87.40" x2="571.60" y2="87.40" stroke="#333" stroke-width="1"/>
<text x="567.20" y="90.20" font-size="9" text-anchor="end" fill="#333">400</text>
<line x1="569.00" y1="97.88" x2="571.60" y2="97.88" stroke="#333" stroke-width="1"/>
<text x="567.20" y="100.68" font-size="9" text-anchor="end" fill="#333">350</text>
<line x1="569.00" y1="108.36" x2="571.60" y2="108.36" stroke="#333" stroke-width="1"/>
<text x="567.20" y="111.16" font-size="9" text-anchor="end" fill="#333">300</text>
<line x1="569.00" y1="118.84" x2="571.60" y2="118.84" stroke="#333" stroke-width="1"/>
<text x="567.20" y="121.64" font-size="9" text-anchor="end" fill="#333">250</text>
<line x1="569.00" y1="129.32" x2="571.60" y2="129.32" stroke="#333" stroke-width="1"/>
<text x="567.20" y="132.12" font-size="9" text-anchor="end" fill="#333">200</text>
<line x1="569.00" y1="139.80" x2="571.60" y2="139.80" stroke="#333" stroke-width="1"/>
<text x="567.20" y="142.60" font-size="9" text-anchor="end" fill="#333">100</text>
<line x1="569.00" y1="150.28" x2="571.60" y2="150.28" stroke="#333" stroke-width="1"/>
<text x="567.20" y="153.08" font-size="9" text-anchor="end" fill="#333">50</text>
<line x1="569.00" y1="160.76" x2="571.60" y2="160.76" stroke="#333" stroke-width="1"/>
<text x="567.20" y="163.56" font-size="9" text-anchor="end" fill="#333">0</text>
<line x1="581.78" y1="166.80" x2="581.78" y2="169.40" stroke="#333" stroke-width="1"/>
<text x="586.08" y="174.90" font-size="8.9" text-anchor="end" fill="#333" transform="rotate(-45 586.08 174.90)">0</text>
<line x1="599.43" y1="166.80" x2="599.43" y2="169.40" stroke="#333" stroke-width="1"/>
<text x="605.23" y="175.20" font-size="8.9" text-anchor="end" fill="#333" transform="rotate(-45 605.23 175.20)">30</text>
<line x1="617.08" y1="166.80" x2="617.08" y2="169.40" stroke="#333" stroke-width="1"/>
<text x="622.88" y="175.20" font-size="8.9" text-anchor="end" fill="#333" transform="rotate(-45 622.88 175.20)">60</text>
<line x1="634.73" y1="166.80" x2="634.73" y2="169.40" stroke="#333" stroke-width="1"/>
<text x="640.52" y="175.20" font-size="8.9" text-anchor="end" fill="#333" transform="rotate(-45 640.52 175.20)">120</text>
<line x1="652.38" y1="166.80" x2="652.38" y2="169.40" stroke="#333" stroke-width="1"/>
<text x="658.17" y="175.20" font-size="8.9" text-anchor="end" fill="#333" transform="rotate(-45 658.17 175.20)">240</text>
<line x1="670.03" y1="166.80" x2="670.03" y2="169.40" stroke="#333" stroke-width="1"/>
<text x="675.83" y="175.20" font-size="8.9" text-anchor="end" fill="#333" transform="rotate(-45 675.83 175.20)">360</text>
<text x="625.90" y="196.90" font-size="10" text-anchor="middle" fill="#111">RP−6306 (nM)</text>
<text x="544.90" y="113.00" font-size="10.0" text-anchor="middle" fill="#111" transform="rotate(-90 544.90 113.00)">Debio 0123 (nM)</text>
<text x="625.30" y="8.80" font-size="10.1" text-anchor="middle" fill="#222">RPE1 <tspan font-style="italic">TP53</tspan><tspan font-size="5.8" dy="-3.3">KO</tspan></text>
<text x="625.30" y="20.10" font-size="10.1" text-anchor="middle" fill="#222"><tspan font-style="italic">GCN2</tspan><tspan font-size="5.8" dy="-3.3">KO</tspan><tspan dy="3.3"> #2</tspan></text>
<text x="625.30" y="34.20" font-size="8.7" text-anchor="middle" fill="#222">inhibition (%)</text>
<rect x="584.60" y="47.70" width="82.50" height="8.40" fill="url(#hg2)"/>
<text x="590.86" y="44.70" font-size="7.9" text-anchor="middle" fill="#333">0</text>
<line x1="611.40" y1="47.70" x2="611.40" y2="50.90" stroke="#fff" stroke-width="0.9"/>
<line x1="611.40" y1="52.90" x2="611.40" y2="56.10" stroke="#fff" stroke-width="0.9"/>
<text x="611.80" y="44.70" font-size="7.9" text-anchor="middle" fill="#333">25</text>
<line x1="632.34" y1="47.70" x2="632.34" y2="50.90" stroke="#fff" stroke-width="0.9"/>
<line x1="632.34" y1="52.90" x2="632.34" y2="56.10" stroke="#fff" stroke-width="0.9"/>
<text x="632.74" y="44.70" font-size="7.9" text-anchor="middle" fill="#333">50</text>
<line x1="653.28" y1="47.70" x2="653.28" y2="50.90" stroke="#fff" stroke-width="0.9"/>
<line x1="653.28" y1="52.90" x2="653.28" y2="56.10" stroke="#fff" stroke-width="0.9"/>
<text x="653.68" y="44.70" font-size="7.9" text-anchor="middle" fill="#333">75</text>
<line x1="39.40" y1="274.55" x2="39.40" y2="405.60" stroke="#1a1a1a" stroke-width="1"/>
<text x="32.60" y="408.20" font-size="8.6" text-anchor="end" fill="#222">0</text>
<line x1="34.60" y1="379.49" x2="39.40" y2="379.49" stroke="#1a1a1a" stroke-width="1"/>
<text x="32.60" y="382.09" font-size="8.6" text-anchor="end" fill="#222">20</text>
<line x1="34.60" y1="353.38" x2="39.40" y2="353.38" stroke="#1a1a1a" stroke-width="1"/>
<text x="32.60" y="355.98" font-size="8.6" text-anchor="end" fill="#222">40</text>
<line x1="34.60" y1="327.27" x2="39.40" y2="327.27" stroke="#1a1a1a" stroke-width="1"/>
<text x="32.60" y="329.87" font-size="8.6" text-anchor="end" fill="#222">60</text>
<line x1="34.60" y1="301.16" x2="39.40" y2="301.16" stroke="#1a1a1a" stroke-width="1"/>
<text x="32.60" y="303.76" font-size="8.6" text-anchor="end" fill="#222">80</text>
<line x1="34.60" y1="275.05" x2="39.40" y2="275.05" stroke="#1a1a1a" stroke-width="1"/>
<text x="32.60" y="277.65" font-size="8.6" text-anchor="end" fill="#222">100</text>
<rect x="48.55" y="362.65" width="18.50" height="42.95" fill="#E8304C"/>
<rect x="76.15" y="368.92" width="18.50" height="36.68" fill="#E8304C"/>
<rect x="103.75" y="349.46" width="18.50" height="56.14" fill="#E8304C"/>
<line x1="34.60" y1="405.90" x2="131.50" y2="405.90" stroke="#999" stroke-width="1.4"/>
<line x1="39.80" y1="392.80" x2="131.50" y2="392.80" stroke="#000" stroke-width="1.1" stroke-dasharray="2.3 2.8" stroke-opacity="0.42"/>
<line x1="57.80" y1="345.16" x2="57.80" y2="380.01" stroke="#222" stroke-width="0.9"/>
<line x1="53.20" y1="345.16" x2="62.40" y2="345.16" stroke="#222" stroke-width="0.9"/>
<line x1="53.20" y1="380.01" x2="62.40" y2="380.01" stroke="#222" stroke-width="0.9"/>
<line x1="85.40" y1="343.98" x2="85.40" y2="393.07" stroke="#222" stroke-width="0.9"/>
<line x1="80.80" y1="343.98" x2="90.00" y2="343.98" stroke="#222" stroke-width="0.9"/>
<line x1="80.80" y1="393.07" x2="90.00" y2="393.07" stroke="#222" stroke-width="0.9"/>
<line x1="113.00" y1="318.65" x2="113.00" y2="381.06" stroke="#222" stroke-width="0.9"/>
<line x1="108.40" y1="318.65" x2="117.60" y2="318.65" stroke="#222" stroke-width="0.9"/>
<line x1="108.40" y1="381.06" x2="117.60" y2="381.06" stroke="#222" stroke-width="0.9"/>
<circle cx="57.60" cy="334.90" r="1.8" fill="#fff" stroke="#111" stroke-width="0.9"/>
<circle cx="57.60" cy="357.20" r="1.8" fill="#fff" stroke="#111" stroke-width="0.9"/>
<circle cx="57.60" cy="371.20" r="1.8" fill="#fff" stroke="#111" stroke-width="0.9"/>
<circle cx="54.30" cy="375.40" r="1.8" fill="#fff" stroke="#111" stroke-width="0.9"/>
<circle cx="61.60" cy="374.70" r="1.8" fill="#fff" stroke="#111" stroke-width="0.9"/>
<circle cx="85.50" cy="335.40" r="1.8" fill="#fff" stroke="#111" stroke-width="0.9"/>
<circle cx="85.50" cy="358.70" r="1.8" fill="#fff" stroke="#111" stroke-width="0.9"/>
<circle cx="85.50" cy="365.60" r="1.8" fill="#fff" stroke="#111" stroke-width="0.9"/>
<circle cx="85.50" cy="387.30" r="1.8" fill="#fff" stroke="#111" stroke-width="0.9"/>
<circle cx="85.50" cy="397.80" r="1.8" fill="#fff" stroke="#111" stroke-width="0.9"/>
<circle cx="112.90" cy="301.40" r="1.8" fill="#fff" stroke="#111" stroke-width="0.9"/>
<circle cx="113.00" cy="337.10" r="1.8" fill="#fff" stroke="#111" stroke-width="0.9"/>
<circle cx="113.00" cy="360.20" r="1.8" fill="#fff" stroke="#111" stroke-width="0.9"/>
<circle cx="113.00" cy="372.20" r="1.8" fill="#fff" stroke="#111" stroke-width="0.9"/>
<circle cx="113.00" cy="378.80" r="1.8" fill="#fff" stroke="#111" stroke-width="0.9"/>
<line x1="57.10" y1="290.30" x2="112.70" y2="290.30" stroke="#444" stroke-width="1"/>
<text x="84.80" y="286.90" font-size="8.85" text-anchor="middle" fill="#333">p = 0.5396</text>
<line x1="57.70" y1="306.10" x2="85.50" y2="306.10" stroke="#777" stroke-width="1"/>
<text x="71.80" y="303.30" font-size="8.85" text-anchor="middle" fill="#333">p = 0.7085</text>
<line x1="57.40" y1="405.60" x2="57.40" y2="410.80" stroke="#555" stroke-width="1"/>
<line x1="85.00" y1="405.60" x2="85.00" y2="410.80" stroke="#555" stroke-width="1"/>
<line x1="112.60" y1="405.60" x2="112.60" y2="410.80" stroke="#555" stroke-width="1"/>
<text x="62.00" y="418.50" font-size="8.9" text-anchor="end" fill="#222" transform="rotate(-45 62.00 418.50)">Parental</text>
<text x="90.00" y="418.50" font-size="8.7" text-anchor="end" fill="#222" transform="rotate(-45 90.00 418.50)"><tspan font-style="italic">GCN2</tspan><tspan font-size="5.6" dy="-3">KO</tspan><tspan dy="3"> Cl. #1</tspan></text>
<text x="117.20" y="418.50" font-size="8.7" text-anchor="end" fill="#222" transform="rotate(-45 117.20 418.50)"><tspan font-style="italic">GCN2</tspan><tspan font-size="5.6" dy="-3">KO</tspan><tspan dy="3"> Cl. #2</tspan></text>
<text x="14.90" y="340.60" font-size="10" text-anchor="middle" fill="#111" transform="rotate(-90 14.90 340.60)">ZIP synergy score</text>
<text x="131.50" y="387.10" font-size="10" text-anchor="start" fill="#111">Synergistic</text>
<text x="131.50" y="404.20" font-size="9.7" text-anchor="start" fill="#111">Additive</text>
<g clip-path="url(#dclip0)">
<rect x="227.20" y="283.50" width="108.60" height="148.00" fill="#F8DDD3"/>
<path d="M235.50,280.00 C235.47,283.33 235.47,291.67 235.30,300.00 C235.13,308.33 234.68,320.00 234.50,330.00 C234.32,340.00 234.22,350.00 234.20,360.00 C234.18,370.00 233.70,382.15 234.40,390.00 C235.10,397.85 236.62,402.72 238.40,407.10 C240.18,411.48 243.00,414.20 245.10,416.30 C247.20,418.40 248.75,419.28 251.00,419.70 C253.25,420.12 255.38,420.07 258.60,418.80 C261.82,417.53 266.67,414.20 270.30,412.10 C273.93,410.00 276.77,407.45 280.40,406.20 C284.03,404.95 287.35,404.73 292.10,404.60 C296.85,404.47 302.18,405.55 308.90,405.40 C315.62,405.25 326.38,404.02 332.40,403.70 C338.42,403.38 342.90,403.53 345.00,403.50 L345.00,280.00 Z" fill="#F0AE9B" stroke="#f6cfc2" stroke-width="0.8" stroke-opacity="0.85"/>
<path d="M245.00,278.00 C244.87,279.25 244.78,282.67 244.20,285.50 C243.62,288.33 242.25,291.58 241.50,295.00 C240.75,298.42 240.07,301.83 239.70,306.00 C239.33,310.17 239.37,312.67 239.30,320.00 C239.23,327.33 239.27,339.40 239.30,350.00 C239.33,360.60 238.95,375.48 239.50,383.60 C240.05,391.72 240.82,394.65 242.60,398.70 C244.38,402.75 247.53,406.50 250.20,407.90 C252.87,409.30 255.25,408.35 258.60,407.10 C261.95,405.85 266.10,402.37 270.30,400.40 C274.50,398.43 279.60,396.28 283.80,395.30 C288.00,394.32 290.75,394.22 295.50,394.50 C300.25,394.78 306.15,396.58 312.30,397.00 C318.45,397.42 326.95,397.00 332.40,397.00 C337.85,397.00 342.90,397.00 345.00,397.00 L345.00,292.70 L345.00,292.70 C343.00,292.68 338.27,292.77 333.00,292.60 C327.73,292.43 320.68,292.02 313.40,291.70 C306.12,291.38 295.88,291.67 289.30,290.70 C282.72,289.73 277.78,288.02 273.90,285.90 C270.02,283.78 267.32,279.32 266.00,278.00 Z" fill="#EA846E" stroke="#f6cfc2" stroke-width="0.8" stroke-opacity="0.85"/>
<path d="M345.00,303.70 C343.00,303.70 341.82,303.78 333.00,303.70 C324.18,303.62 300.18,303.52 292.10,303.20 C284.02,302.88 286.73,302.32 284.50,301.80 C282.27,301.28 280.82,301.00 278.70,300.10 C276.58,299.20 274.17,297.62 271.80,296.40 C269.43,295.18 266.97,293.70 264.50,292.80 C262.03,291.90 259.00,291.10 257.00,291.00 C255.00,290.90 253.92,291.23 252.50,292.20 C251.08,293.17 250.00,294.08 248.50,296.80 C247.00,299.52 244.75,302.90 243.50,308.50 C242.25,314.10 241.28,321.82 241.00,330.40 C240.72,338.98 241.42,352.53 241.80,360.00 C242.18,367.47 242.47,370.57 243.30,375.20 C244.13,379.83 244.95,384.50 246.80,387.80 C248.65,391.10 251.60,394.03 254.40,395.00 C257.20,395.97 260.10,394.53 263.60,393.60 C267.10,392.67 271.20,390.37 275.40,389.40 C279.60,388.43 284.05,387.65 288.80,387.80 C293.55,387.95 298.87,389.75 303.90,390.30 C308.93,390.85 314.25,391.25 319.00,391.10 C323.75,390.95 328.07,389.68 332.40,389.40 C336.73,389.12 342.90,389.40 345.00,389.40 Z" fill="#E85C48" stroke="#f6cfc2" stroke-width="0.8" stroke-opacity="0.85"/>
<path d="M345.00,315.30 C343.00,315.30 339.02,315.37 333.00,315.30 C326.98,315.23 315.72,315.25 308.90,314.90 C302.08,314.55 296.85,314.22 292.10,313.20 C287.35,312.18 283.78,310.13 280.40,308.80 C277.02,307.47 274.45,306.42 271.80,305.20 C269.15,303.98 266.93,302.35 264.50,301.50 C262.07,300.65 259.28,300.13 257.20,300.10 C255.12,300.07 253.45,300.68 252.00,301.30 C250.55,301.92 249.50,302.03 248.50,303.80 C247.50,305.57 246.70,307.47 246.00,311.90 C245.30,316.33 244.30,322.38 244.30,330.40 C244.30,338.42 245.67,353.73 246.00,360.00 C246.33,366.27 245.88,365.05 246.30,368.00 C246.72,370.95 247.15,375.25 248.50,377.70 C249.85,380.15 251.88,382.28 254.40,382.70 C256.92,383.12 260.10,381.45 263.60,380.20 C267.10,378.95 271.48,376.60 275.40,375.20 C279.32,373.80 283.75,372.22 287.10,371.80 C290.45,371.38 291.87,371.58 295.50,372.70 C299.13,373.82 304.98,377.02 308.90,378.50 C312.82,379.98 315.08,381.32 319.00,381.60 C322.92,381.88 328.07,380.43 332.40,380.20 C336.73,379.97 342.90,380.20 345.00,380.20 Z" fill="#E8212F" stroke="#f6cfc2" stroke-width="0.8" stroke-opacity="0.85"/>
<path d="M251.90,313.60 C253.10,311.87 255.35,309.95 257.20,309.60 C259.05,309.25 261.12,310.77 263.00,311.50 C264.88,312.23 266.72,312.40 268.50,314.00 C270.28,315.60 272.70,317.82 273.70,321.10 C274.70,324.38 274.65,329.37 274.50,333.70 C274.35,338.03 273.63,343.22 272.80,347.10 C271.97,350.98 271.13,354.18 269.50,357.00 C267.87,359.82 265.25,362.75 263.00,364.00 C260.75,365.25 257.83,365.67 256.00,364.50 C254.17,363.33 253.00,360.25 252.00,357.00 C251.00,353.75 250.45,349.43 250.00,345.00 C249.55,340.57 249.30,334.57 249.30,330.40 C249.30,326.23 249.57,322.80 250.00,320.00 C250.43,317.20 250.70,315.33 251.90,313.60Z" fill="#E8202E" stroke="#f6cfc2" stroke-width="0.8" stroke-opacity="0.85"/>
<line x1="250.12" y1="285.50" x2="250.12" y2="429.50" stroke="#111" stroke-width="1.4" stroke-dasharray="1.5 3.34" stroke-dashoffset="1.6"/>
<line x1="271.04" y1="285.50" x2="271.04" y2="429.50" stroke="#111" stroke-width="1.4" stroke-dasharray="1.5 3.34" stroke-dashoffset="1.6"/>
<line x1="291.96" y1="285.50" x2="291.96" y2="429.50" stroke="#111" stroke-width="1.4" stroke-dasharray="1.5 3.34" stroke-dashoffset="1.6"/>
<line x1="312.88" y1="285.50" x2="312.88" y2="429.50" stroke="#111" stroke-width="1.4" stroke-dasharray="1.5 3.34" stroke-dashoffset="1.6"/>
<line x1="229.20" y1="301.50" x2="333.80" y2="301.50" stroke="#111" stroke-width="1.4" stroke-dasharray="1.5 3.34"/>
<line x1="229.20" y1="317.50" x2="333.80" y2="317.50" stroke="#111" stroke-width="1.4" stroke-dasharray="1.5 3.34"/>
<line x1="229.20" y1="333.50" x2="333.80" y2="333.50" stroke="#111" stroke-width="1.4" stroke-dasharray="1.5 3.34"/>
<line x1="229.20" y1="349.50" x2="333.80" y2="349.50" stroke="#111" stroke-width="1.4" stroke-dasharray="1.5 3.34"/>
<line x1="229.20" y1="365.50" x2="333.80" y2="365.50" stroke="#111" stroke-width="1.4" stroke-dasharray="1.5 3.34"/>
<line x1="229.20" y1="381.50" x2="333.80" y2="381.50" stroke="#111" stroke-width="1.4" stroke-dasharray="1.5 3.34"/>
<line x1="229.20" y1="397.50" x2="333.80" y2="397.50" stroke="#111" stroke-width="1.4" stroke-dasharray="1.5 3.34"/>
<line x1="229.20" y1="413.50" x2="333.80" y2="413.50" stroke="#111" stroke-width="1.4" stroke-dasharray="1.5 3.34"/>
</g>
<rect x="229.20" y="285.5" width="104.6" height="144.0" fill="none" stroke="#333" stroke-width="1"/>
<line x1="226.70" y1="285.50" x2="229.20" y2="285.50" stroke="#333" stroke-width="1"/>
<text x="225.60" y="288.50" font-size="8.5" text-anchor="end" fill="#333">800</text>
<line x1="226.70" y1="301.50" x2="229.20" y2="301.50" stroke="#333" stroke-width="1"/>
<text x="225.60" y="304.50" font-size="8.5" text-anchor="end" fill="#333">600</text>
<line x1="226.70" y1="317.50" x2="229.20" y2="317.50" stroke="#333" stroke-width="1"/>
<text x="225.60" y="320.50" font-size="8.5" text-anchor="end" fill="#333">400</text>
<line x1="226.70" y1="333.50" x2="229.20" y2="333.50" stroke="#333" stroke-width="1"/>
<text x="225.60" y="336.50" font-size="8.5" text-anchor="end" fill="#333">350</text>
<line x1="226.70" y1="349.50" x2="229.20" y2="349.50" stroke="#333" stroke-width="1"/>
<text x="225.60" y="352.50" font-size="8.5" text-anchor="end" fill="#333">300</text>
<line x1="226.70" y1="365.50" x2="229.20" y2="365.50" stroke="#333" stroke-width="1"/>
<text x="225.60" y="368.50" font-size="8.5" text-anchor="end" fill="#333">250</text>
<line x1="226.70" y1="381.50" x2="229.20" y2="381.50" stroke="#333" stroke-width="1"/>
<text x="225.60" y="384.50" font-size="8.5" text-anchor="end" fill="#333">200</text>
<line x1="226.70" y1="397.50" x2="229.20" y2="397.50" stroke="#333" stroke-width="1"/>
<text x="225.60" y="400.50" font-size="8.5" text-anchor="end" fill="#333">100</text>
<line x1="226.70" y1="413.50" x2="229.20" y2="413.50" stroke="#333" stroke-width="1"/>
<text x="225.60" y="416.50" font-size="8.5" text-anchor="end" fill="#333">50</text>
<line x1="226.70" y1="429.50" x2="229.20" y2="429.50" stroke="#333" stroke-width="1"/>
<text x="225.60" y="432.50" font-size="8.5" text-anchor="end" fill="#333">0</text>
<text x="229.20" y="439.00" font-size="8.3" text-anchor="middle" fill="#333">0</text>
<text x="250.12" y="439.00" font-size="8.3" text-anchor="middle" fill="#333">30</text>
<text x="271.04" y="439.00" font-size="8.3" text-anchor="middle" fill="#333">60</text>
<text x="291.96" y="439.00" font-size="8.3" text-anchor="middle" fill="#333">120</text>
<text x="312.88" y="439.00" font-size="8.3" text-anchor="middle" fill="#333">240</text>
<text x="333.80" y="439.00" font-size="8.3" text-anchor="middle" fill="#333">360</text>
<text x="281.50" y="453.20" font-size="10" text-anchor="middle" fill="#111">RP−6306 (nM)</text>
<text x="204.20" y="351.00" font-size="10.0" text-anchor="middle" fill="#111" transform="rotate(-90 204.20 351.00)">Debio 0123 (nM)</text>
<text x="281.40" y="243.20" font-size="10.1" text-anchor="middle" fill="#111">ZIP synergy score</text>
<text x="281.40" y="254.80" font-size="8.9" text-anchor="middle" fill="#111">Mean: 33.56 (p = 8.79e-17)</text>
<rect x="231.40" y="271.60" width="96.60" height="9.70" fill="url(#dg0)"/>
<text x="234.30" y="268.90" font-size="7.6" text-anchor="middle" fill="#333">-60</text>
<text x="257.70" y="268.90" font-size="7.6" text-anchor="middle" fill="#333">-30</text>
<text x="281.90" y="268.90" font-size="7.6" text-anchor="middle" fill="#333">0</text>
<text x="306.10" y="268.90" font-size="7.6" text-anchor="middle" fill="#333">30</text>
<text x="331.10" y="268.90" font-size="7.6" text-anchor="middle" fill="#333">60</text>
<g clip-path="url(#dclip1)">
<rect x="398.60" y="283.50" width="108.60" height="148.00" fill="#F7DAD0"/>
<path d="M406.80,278.00 C406.80,281.67 406.80,293.00 406.80,300.00 C406.80,307.00 406.73,313.33 406.80,320.00 C406.87,326.67 406.80,331.32 407.20,340.00 C407.60,348.68 408.32,364.33 409.20,372.10 C410.08,379.87 410.35,382.32 412.50,386.60 C414.65,390.88 417.02,395.53 422.10,397.80 C427.18,400.07 436.85,399.13 443.00,400.20 C449.15,401.27 454.18,402.72 459.00,404.20 C463.82,405.68 467.88,408.02 471.90,409.10 C475.92,410.18 479.90,411.25 483.10,410.70 C486.30,410.15 488.68,407.42 491.10,405.80 C493.52,404.18 495.23,402.47 497.60,401.00 C499.97,399.53 502.40,398.00 505.30,397.00 C508.20,396.00 513.38,395.33 515.00,395.00 L515.00,278.00 Z" fill="#EFA593" stroke="#f6cfc2" stroke-width="0.8" stroke-opacity="0.85"/>
<path d="M412.50,278.00 C412.45,281.67 412.33,293.83 412.20,300.00 C412.07,306.17 411.65,310.00 411.70,315.00 C411.75,320.00 412.10,325.00 412.50,330.00 C412.90,335.00 413.57,339.32 414.10,345.00 C414.63,350.68 414.90,359.05 415.70,364.10 C416.50,369.15 417.30,372.35 418.90,375.30 C420.50,378.25 421.28,380.45 425.30,381.80 C429.32,383.15 436.85,382.33 443.00,383.40 C449.15,384.47 456.32,386.60 462.20,388.20 C468.08,389.80 474.02,392.20 478.30,393.00 C482.58,393.80 483.40,393.80 487.90,393.00 C492.40,392.20 500.78,389.37 505.30,388.20 C509.82,387.03 513.38,386.37 515.00,386.00 L515.00,278.00 Z" fill="#E8674F" stroke="#f6cfc2" stroke-width="0.8" stroke-opacity="0.85"/>
<path d="M418.10,278.00 C417.92,281.67 417.27,293.82 417.00,300.00 C416.73,306.18 416.18,309.10 416.50,315.10 C416.82,321.10 417.70,330.65 418.90,336.00 C420.10,341.35 421.83,344.40 423.70,347.20 C425.57,350.00 426.88,351.32 430.10,352.80 C433.32,354.28 439.25,354.75 443.00,356.10 C446.75,357.45 448.87,358.50 452.60,360.90 C456.33,363.30 461.12,367.70 465.40,370.50 C469.68,373.30 474.55,376.37 478.30,377.70 C482.05,379.03 483.40,379.03 487.90,378.50 C492.40,377.97 500.78,375.58 505.30,374.50 C509.82,373.42 513.38,372.42 515.00,372.00 L515.00,278.00 Z" fill="#E8212F" stroke="#f6cfc2" stroke-width="0.8" stroke-opacity="0.85"/>
<path d="M512.00,312.50 C510.88,312.53 509.32,312.27 505.30,312.70 C501.28,313.13 492.93,314.03 487.90,315.10 C482.87,316.17 478.30,317.48 475.10,319.10 C471.90,320.72 469.23,322.78 468.70,324.80 C468.17,326.82 469.77,328.80 471.90,331.20 C474.03,333.60 478.30,336.93 481.50,339.20 C484.70,341.47 487.13,343.60 491.10,344.80 C495.07,346.00 501.82,346.12 505.30,346.40 C508.78,346.68 510.88,346.48 512.00,346.50" fill="none" stroke="#f6cfc2" stroke-width="0.8" stroke-opacity="0.85"/>
<line x1="421.52" y1="285.50" x2="421.52" y2="429.50" stroke="#111" stroke-width="1.4" stroke-dasharray="1.5 3.34" stroke-dashoffset="1.6"/>
<line x1="442.44" y1="285.50" x2="442.44" y2="429.50" stroke="#111" stroke-width="1.4" stroke-dasharray="1.5 3.34" stroke-dashoffset="1.6"/>
<line x1="463.36" y1="285.50" x2="463.36" y2="429.50" stroke="#111" stroke-width="1.4" stroke-dasharray="1.5 3.34" stroke-dashoffset="1.6"/>
<line x1="484.28" y1="285.50" x2="484.28" y2="429.50" stroke="#111" stroke-width="1.4" stroke-dasharray="1.5 3.34" stroke-dashoffset="1.6"/>
<line x1="400.60" y1="301.50" x2="505.20" y2="301.50" stroke="#111" stroke-width="1.4" stroke-dasharray="1.5 3.34"/>
<line x1="400.60" y1="317.50" x2="505.20" y2="317.50" stroke="#111" stroke-width="1.4" stroke-dasharray="1.5 3.34"/>
<line x1="400.60" y1="333.50" x2="505.20" y2="333.50" stroke="#111" stroke-width="1.4" stroke-dasharray="1.5 3.34"/>
<line x1="400.60" y1="349.50" x2="505.20" y2="349.50" stroke="#111" stroke-width="1.4" stroke-dasharray="1.5 3.34"/>
<line x1="400.60" y1="365.50" x2="505.20" y2="365.50" stroke="#111" stroke-width="1.4" stroke-dasharray="1.5 3.34"/>
<line x1="400.60" y1="381.50" x2="505.20" y2="381.50" stroke="#111" stroke-width="1.4" stroke-dasharray="1.5 3.34"/>
<line x1="400.60" y1="397.50" x2="505.20" y2="397.50" stroke="#111" stroke-width="1.4" stroke-dasharray="1.5 3.34"/>
<line x1="400.60" y1="413.50" x2="505.20" y2="413.50" stroke="#111" stroke-width="1.4" stroke-dasharray="1.5 3.34"/>
</g>
<rect x="400.60" y="285.5" width="104.6" height="144.0" fill="none" stroke="#333" stroke-width="1"/>
<line x1="398.10" y1="285.50" x2="400.60" y2="285.50" stroke="#333" stroke-width="1"/>
<text x="397.00" y="288.50" font-size="8.5" text-anchor="end" fill="#333">800</text>
<line x1="398.10" y1="301.50" x2="400.60" y2="301.50" stroke="#333" stroke-width="1"/>
<text x="397.00" y="304.50" font-size="8.5" text-anchor="end" fill="#333">600</text>
<line x1="398.10" y1="317.50" x2="400.60" y2="317.50" stroke="#333" stroke-width="1"/>
<text x="397.00" y="320.50" font-size="8.5" text-anchor="end" fill="#333">400</text>
<line x1="398.10" y1="333.50" x2="400.60" y2="333.50" stroke="#333" stroke-width="1"/>
<text x="397.00" y="336.50" font-size="8.5" text-anchor="end" fill="#333">350</text>
<line x1="398.10" y1="349.50" x2="400.60" y2="349.50" stroke="#333" stroke-width="1"/>
<text x="397.00" y="352.50" font-size="8.5" text-anchor="end" fill="#333">300</text>
<line x1="398.10" y1="365.50" x2="400.60" y2="365.50" stroke="#333" stroke-width="1"/>
<text x="397.00" y="368.50" font-size="8.5" text-anchor="end" fill="#333">250</text>
<line x1="398.10" y1="381.50" x2="400.60" y2="381.50" stroke="#333" stroke-width="1"/>
<text x="397.00" y="384.50" font-size="8.5" text-anchor="end" fill="#333">200</text>
<line x1="398.10" y1="397.50" x2="400.60" y2="397.50" stroke="#333" stroke-width="1"/>
<text x="397.00" y="400.50" font-size="8.5" text-anchor="end" fill="#333">100</text>
<line x1="398.10" y1="413.50" x2="400.60" y2="413.50" stroke="#333" stroke-width="1"/>
<text x="397.00" y="416.50" font-size="8.5" text-anchor="end" fill="#333">50</text>
<line x1="398.10" y1="429.50" x2="400.60" y2="429.50" stroke="#333" stroke-width="1"/>
<text x="397.00" y="432.50" font-size="8.5" text-anchor="end" fill="#333">0</text>
<text x="400.60" y="439.00" font-size="8.3" text-anchor="middle" fill="#333">0</text>
<text x="421.52" y="439.00" font-size="8.3" text-anchor="middle" fill="#333">30</text>
<text x="442.44" y="439.00" font-size="8.3" text-anchor="middle" fill="#333">60</text>
<text x="463.36" y="439.00" font-size="8.3" text-anchor="middle" fill="#333">120</text>
<text x="484.28" y="439.00" font-size="8.3" text-anchor="middle" fill="#333">240</text>
<text x="505.20" y="439.00" font-size="8.3" text-anchor="middle" fill="#333">360</text>
<text x="452.90" y="453.20" font-size="10" text-anchor="middle" fill="#111">RP−6306 (nM)</text>
<text x="375.60" y="351.00" font-size="10.0" text-anchor="middle" fill="#111" transform="rotate(-90 375.60 351.00)">Debio 0123 (nM)</text>
<text x="452.80" y="243.20" font-size="10.1" text-anchor="middle" fill="#111">ZIP synergy score</text>
<text x="452.80" y="254.80" font-size="8.9" text-anchor="middle" fill="#111">Mean: 27.5 (p = 2.61e-10)</text>
<rect x="404.90" y="271.60" width="96.60" height="9.70" fill="url(#dg1)"/>
<text x="405.90" y="268.90" font-size="7.6" text-anchor="middle" fill="#333">-50</text>
<text x="429.70" y="268.90" font-size="7.6" text-anchor="middle" fill="#333">-25</text>
<text x="453.20" y="268.90" font-size="7.6" text-anchor="middle" fill="#333">0</text>
<text x="477.30" y="268.90" font-size="7.6" text-anchor="middle" fill="#333">25</text>
<text x="501.50" y="268.90" font-size="7.6" text-anchor="middle" fill="#333">50</text>
<g clip-path="url(#dclip2)">
<rect x="571.50" y="283.50" width="108.60" height="148.00" fill="#F9E1D8"/>
<path d="M577.40,278.00 C577.40,283.33 577.40,299.67 577.40,310.00 C577.40,320.33 577.27,326.97 577.40,340.00 C577.53,353.03 577.67,377.50 578.20,388.20 C578.73,398.90 579.12,399.92 580.60,404.20 C582.08,408.48 584.68,411.75 587.10,413.90 C589.52,416.05 590.28,416.43 595.10,417.10 C599.92,417.77 609.32,417.63 616.00,417.90 C622.68,418.17 629.32,418.43 635.20,418.70 C641.08,418.97 644.12,419.50 651.30,419.50 C658.48,419.50 671.85,418.83 678.30,418.70 C684.75,418.57 688.05,418.70 690.00,418.70 L690.00,278.00 Z" fill="#F2BBAA" stroke="#f6cfc2" stroke-width="0.8" stroke-opacity="0.85"/>
<path d="M582.00,278.00 C581.93,283.33 581.57,299.67 581.60,310.00 C581.63,320.33 581.97,329.65 582.20,340.00 C582.43,350.35 582.32,364.07 583.00,372.10 C583.68,380.13 584.55,384.05 586.30,388.20 C588.05,392.35 590.70,395.40 593.50,397.00 C596.30,398.60 599.62,397.93 603.10,397.80 C606.58,397.67 610.38,395.93 614.40,396.20 C618.42,396.47 622.38,398.07 627.20,399.40 C632.02,400.73 638.22,402.87 643.30,404.20 C648.38,405.53 651.87,407.27 657.70,407.40 C663.53,407.53 672.92,405.40 678.30,405.00 C683.68,404.60 688.05,405.00 690.00,405.00 L690.00,278.00 Z" fill="#EE9D89" stroke="#f6cfc2" stroke-width="0.8" stroke-opacity="0.85"/>
<path d="M587.00,278.00 C587.00,283.33 586.85,299.67 587.00,310.00 C587.15,320.33 587.62,330.98 587.90,340.00 C588.18,349.02 588.17,357.95 588.70,364.10 C589.23,370.25 589.50,373.55 591.10,376.90 C592.70,380.25 595.50,383.12 598.30,384.20 C601.10,385.28 604.95,383.93 607.90,383.40 C610.85,382.87 612.78,380.87 616.00,381.00 C619.22,381.13 622.65,382.73 627.20,384.20 C631.75,385.67 638.22,388.47 643.30,389.80 C648.38,391.13 651.87,391.93 657.70,392.20 C663.53,392.47 672.92,391.53 678.30,391.40 C683.68,391.27 688.05,391.40 690.00,391.40 L690.00,278.00 Z" fill="#E9705A" stroke="#f6cfc2" stroke-width="0.8" stroke-opacity="0.85"/>
<path d="M592.70,278.00 C592.67,283.33 592.50,299.67 592.50,310.00 C592.50,320.33 592.27,332.87 592.70,340.00 C593.13,347.13 593.90,349.18 595.10,352.80 C596.30,356.42 597.77,359.95 599.90,361.70 C602.03,363.45 605.22,363.43 607.90,363.30 C610.58,363.17 613.05,360.77 616.00,360.90 C618.95,361.03 622.40,362.50 625.60,364.10 C628.80,365.70 632.25,368.50 635.20,370.50 C638.15,372.50 639.82,374.35 643.30,376.10 C646.78,377.85 652.08,379.92 656.10,381.00 C660.12,382.08 663.70,382.20 667.40,382.60 C671.10,383.00 674.53,383.27 678.30,383.40 C682.07,383.53 688.05,383.40 690.00,383.40 L690.00,278.00 Z" fill="#E8423A" stroke="#f6cfc2" stroke-width="0.8" stroke-opacity="0.85"/>
<path d="M589.00,278.00 C589.35,279.15 590.08,281.93 591.10,284.90 C592.12,287.87 593.63,292.77 595.10,295.80 C596.57,298.83 598.30,301.35 599.90,303.10 C601.50,304.85 603.10,306.17 604.70,306.30 C606.30,306.43 607.62,305.23 609.50,303.90 C611.38,302.57 613.58,300.18 616.00,298.30 C618.42,296.42 620.80,293.95 624.00,292.60 C627.20,291.25 630.65,290.60 635.20,290.20 C639.75,289.80 646.48,290.47 651.30,290.20 C656.12,289.93 659.60,289.40 664.10,288.60 C668.60,287.80 673.98,286.33 678.30,285.40 C682.62,284.47 688.05,283.40 690.00,283.00 L690.00,278.00 Z" fill="#E8212F" stroke="#f6cfc2" stroke-width="0.8" stroke-opacity="0.85"/>
<path d="M690.00,310.30 C688.05,310.30 683.15,310.03 678.30,310.30 C673.45,310.57 666.47,311.10 660.90,311.90 C655.33,312.70 649.18,313.63 644.90,315.10 C640.62,316.57 637.48,318.28 635.20,320.70 C632.92,323.12 631.33,326.38 631.20,329.60 C631.07,332.82 632.38,336.93 634.40,340.00 C636.42,343.07 639.15,345.05 643.30,348.00 C647.45,350.95 654.75,355.02 659.30,357.70 C663.85,360.38 667.43,362.63 670.60,364.10 C673.77,365.57 675.07,366.02 678.30,366.50 C681.53,366.98 688.05,366.92 690.00,367.00 Z" fill="#E8212F" stroke="#f6cfc2" stroke-width="0.8" stroke-opacity="0.85"/>
<line x1="594.42" y1="285.50" x2="594.42" y2="429.50" stroke="#111" stroke-width="1.4" stroke-dasharray="1.5 3.34" stroke-dashoffset="1.6"/>
<line x1="615.34" y1="285.50" x2="615.34" y2="429.50" stroke="#111" stroke-width="1.4" stroke-dasharray="1.5 3.34" stroke-dashoffset="1.6"/>
<line x1="636.26" y1="285.50" x2="636.26" y2="429.50" stroke="#111" stroke-width="1.4" stroke-dasharray="1.5 3.34" stroke-dashoffset="1.6"/>
<line x1="657.18" y1="285.50" x2="657.18" y2="429.50" stroke="#111" stroke-width="1.4" stroke-dasharray="1.5 3.34" stroke-dashoffset="1.6"/>
<line x1="573.50" y1="301.50" x2="678.10" y2="301.50" stroke="#111" stroke-width="1.4" stroke-dasharray="1.5 3.34"/>
<line x1="573.50" y1="317.50" x2="678.10" y2="317.50" stroke="#111" stroke-width="1.4" stroke-dasharray="1.5 3.34"/>
<line x1="573.50" y1="333.50" x2="678.10" y2="333.50" stroke="#111" stroke-width="1.4" stroke-dasharray="1.5 3.34"/>
<line x1="573.50" y1="349.50" x2="678.10" y2="349.50" stroke="#111" stroke-width="1.4" stroke-dasharray="1.5 3.34"/>
<line x1="573.50" y1="365.50" x2="678.10" y2="365.50" stroke="#111" stroke-width="1.4" stroke-dasharray="1.5 3.34"/>
<line x1="573.50" y1="381.50" x2="678.10" y2="381.50" stroke="#111" stroke-width="1.4" stroke-dasharray="1.5 3.34"/>
<line x1="573.50" y1="397.50" x2="678.10" y2="397.50" stroke="#111" stroke-width="1.4" stroke-dasharray="1.5 3.34"/>
<line x1="573.50" y1="413.50" x2="678.10" y2="413.50" stroke="#111" stroke-width="1.4" stroke-dasharray="1.5 3.34"/>
</g>
<rect x="573.50" y="285.5" width="104.6" height="144.0" fill="none" stroke="#333" stroke-width="1"/>
<line x1="571.00" y1="285.50" x2="573.50" y2="285.50" stroke="#333" stroke-width="1"/>
<text x="569.90" y="288.50" font-size="8.5" text-anchor="end" fill="#333">800</text>
<line x1="571.00" y1="301.50" x2="573.50" y2="301.50" stroke="#333" stroke-width="1"/>
<text x="569.90" y="304.50" font-size="8.5" text-anchor="end" fill="#333">600</text>
<line x1="571.00" y1="317.50" x2="573.50" y2="317.50" stroke="#333" stroke-width="1"/>
<text x="569.90" y="320.50" font-size="8.5" text-anchor="end" fill="#333">400</text>
<line x1="571.00" y1="333.50" x2="573.50" y2="333.50" stroke="#333" stroke-width="1"/>
<text x="569.90" y="336.50" font-size="8.5" text-anchor="end" fill="#333">350</text>
<line x1="571.00" y1="349.50" x2="573.50" y2="349.50" stroke="#333" stroke-width="1"/>
<text x="569.90" y="352.50" font-size="8.5" text-anchor="end" fill="#333">300</text>
<line x1="571.00" y1="365.50" x2="573.50" y2="365.50" stroke="#333" stroke-width="1"/>
<text x="569.90" y="368.50" font-size="8.5" text-anchor="end" fill="#333">250</text>
<line x1="571.00" y1="381.50" x2="573.50" y2="381.50" stroke="#333" stroke-width="1"/>
<text x="569.90" y="384.50" font-size="8.5" text-anchor="end" fill="#333">200</text>
<line x1="571.00" y1="397.50" x2="573.50" y2="397.50" stroke="#333" stroke-width="1"/>
<text x="569.90" y="400.50" font-size="8.5" text-anchor="end" fill="#333">100</text>
<line x1="571.00" y1="413.50" x2="573.50" y2="413.50" stroke="#333" stroke-width="1"/>
<text x="569.90" y="416.50" font-size="8.5" text-anchor="end" fill="#333">50</text>
<line x1="571.00" y1="429.50" x2="573.50" y2="429.50" stroke="#333" stroke-width="1"/>
<text x="569.90" y="432.50" font-size="8.5" text-anchor="end" fill="#333">0</text>
<text x="573.50" y="439.00" font-size="8.3" text-anchor="middle" fill="#333">0</text>
<text x="594.42" y="439.00" font-size="8.3" text-anchor="middle" fill="#333">30</text>
<text x="615.34" y="439.00" font-size="8.3" text-anchor="middle" fill="#333">60</text>
<text x="636.26" y="439.00" font-size="8.3" text-anchor="middle" fill="#333">120</text>
<text x="657.18" y="439.00" font-size="8.3" text-anchor="middle" fill="#333">240</text>
<text x="678.10" y="439.00" font-size="8.3" text-anchor="middle" fill="#333">360</text>
<text x="625.80" y="453.20" font-size="10" text-anchor="middle" fill="#111">RP−6306 (nM)</text>
<text x="548.50" y="351.00" font-size="10.0" text-anchor="middle" fill="#111" transform="rotate(-90 548.50 351.00)">Debio 0123 (nM)</text>
<text x="625.70" y="243.20" font-size="10.1" text-anchor="middle" fill="#111">ZIP synergy score</text>
<text x="625.70" y="254.80" font-size="8.9" text-anchor="middle" fill="#111">Mean: 40.08 (p = 1.17e-10)</text>
<rect x="577.10" y="271.60" width="96.70" height="9.70" fill="url(#dg2)"/>
<text x="598.70" y="268.90" font-size="7.6" text-anchor="middle" fill="#333">-40</text>
<text x="626.10" y="268.90" font-size="7.6" text-anchor="middle" fill="#333">0</text>
<text x="652.80" y="268.90" font-size="7.6" text-anchor="middle" fill="#333">40</text>
<line x1="43.40" y1="518.70" x2="43.40" y2="629.20" stroke="#1a1a1a" stroke-width="1"/>
<line x1="42.90" y1="629.20" x2="167.20" y2="629.20" stroke="#1a1a1a" stroke-width="1"/>
<line x1="38.00" y1="629.20" x2="43.40" y2="629.20" stroke="#1a1a1a" stroke-width="1"/>
<text x="36.90" y="631.70" font-size="8.8" text-anchor="end" fill="#222">0.0</text>
<line x1="38.00" y1="601.70" x2="43.40" y2="601.70" stroke="#1a1a1a" stroke-width="1"/>
<text x="36.90" y="604.20" font-size="8.8" text-anchor="end" fill="#222">0.5</text>
<line x1="38.00" y1="574.20" x2="43.40" y2="574.20" stroke="#1a1a1a" stroke-width="1"/>
<text x="36.90" y="576.70" font-size="8.8" text-anchor="end" fill="#222">1.0</text>
<line x1="38.00" y1="546.70" x2="43.40" y2="546.70" stroke="#1a1a1a" stroke-width="1"/>
<text x="36.90" y="549.20" font-size="8.8" text-anchor="end" fill="#222">1.5</text>
<line x1="38.00" y1="519.20" x2="43.40" y2="519.20" stroke="#1a1a1a" stroke-width="1"/>
<text x="36.90" y="521.70" font-size="8.8" text-anchor="end" fill="#222">2.0</text>
<rect x="48.30" y="574.20" width="13.40" height="56.30" fill="#E8304C"/>
<rect x="69.00" y="555.78" width="12.00" height="73.42" fill="#E8304C"/>
<rect x="89.00" y="552.20" width="12.00" height="77.00" fill="#E8304C"/>
<rect x="109.00" y="578.05" width="12.00" height="51.15" fill="#E8304C"/>
<rect x="129.00" y="576.68" width="12.00" height="52.52" fill="#E8304C"/>
<rect x="149.00" y="577.23" width="12.00" height="51.98" fill="#E8304C"/>
<line x1="43.40" y1="574.30" x2="168.00" y2="574.30" stroke="#1a1a1a" stroke-width="1" stroke-dasharray="4 3.6" stroke-opacity="0.8"/>
<line x1="75.10" y1="549.00" x2="75.10" y2="562.60" stroke="#111" stroke-width="0.8"/>
<line x1="72.30" y1="549.00" x2="77.90" y2="549.00" stroke="#111" stroke-width="0.8"/>
<line x1="72.30" y1="562.60" x2="77.90" y2="562.60" stroke="#111" stroke-width="0.8"/>
<line x1="95.10" y1="536.70" x2="95.10" y2="567.90" stroke="#111" stroke-width="0.8"/>
<line x1="92.30" y1="536.70" x2="97.90" y2="536.70" stroke="#111" stroke-width="0.8"/>
<line x1="92.30" y1="567.90" x2="97.90" y2="567.90" stroke="#111" stroke-width="0.8"/>
<line x1="115.00" y1="576.20" x2="115.00" y2="579.00" stroke="#111" stroke-width="0.8"/>
<line x1="112.20" y1="576.20" x2="117.80" y2="576.20" stroke="#111" stroke-width="0.8"/>
<line x1="112.20" y1="579.00" x2="117.80" y2="579.00" stroke="#111" stroke-width="0.8"/>
<line x1="135.00" y1="574.50" x2="135.00" y2="578.50" stroke="#111" stroke-width="0.8"/>
<line x1="132.20" y1="574.50" x2="137.80" y2="574.50" stroke="#111" stroke-width="0.8"/>
<line x1="132.20" y1="578.50" x2="137.80" y2="578.50" stroke="#111" stroke-width="0.8"/>
<line x1="155.00" y1="573.00" x2="155.00" y2="581.00" stroke="#111" stroke-width="0.8"/>
<line x1="152.20" y1="573.00" x2="157.80" y2="573.00" stroke="#111" stroke-width="0.8"/>
<line x1="152.20" y1="581.00" x2="157.80" y2="581.00" stroke="#111" stroke-width="0.8"/>
<circle cx="51.20" cy="574.30" r="1.65" fill="#fff" stroke="#111" stroke-width="0.9"/>
<circle cx="54.20" cy="574.30" r="1.65" fill="#fff" stroke="#111" stroke-width="0.9"/>
<circle cx="57.10" cy="574.30" r="1.65" fill="#fff" stroke="#111" stroke-width="0.9"/>
<circle cx="59.90" cy="574.30" r="1.65" fill="#fff" stroke="#111" stroke-width="0.9"/>
<circle cx="75.10" cy="549.20" r="1.65" fill="#fff" stroke="#111" stroke-width="0.9"/>
<circle cx="71.00" cy="553.80" r="1.65" fill="#fff" stroke="#111" stroke-width="0.9"/>
<circle cx="79.30" cy="556.00" r="1.65" fill="#fff" stroke="#111" stroke-width="0.9"/>
<circle cx="75.10" cy="563.90" r="1.65" fill="#fff" stroke="#111" stroke-width="0.9"/>
<circle cx="95.10" cy="533.00" r="1.65" fill="#fff" stroke="#111" stroke-width="0.9"/>
<circle cx="95.10" cy="550.30" r="1.65" fill="#fff" stroke="#111" stroke-width="0.9"/>
<circle cx="95.10" cy="555.00" r="1.65" fill="#fff" stroke="#111" stroke-width="0.9"/>
<circle cx="95.10" cy="571.10" r="1.65" fill="#fff" stroke="#111" stroke-width="0.9"/>
<circle cx="111.00" cy="578.50" r="1.65" fill="#fff" stroke="#111" stroke-width="0.9"/>
<circle cx="114.00" cy="577.20" r="1.65" fill="#fff" stroke="#111" stroke-width="0.9"/>
<circle cx="117.00" cy="577.20" r="1.65" fill="#fff" stroke="#111" stroke-width="0.9"/>
<circle cx="119.50" cy="577.20" r="1.65" fill="#fff" stroke="#111" stroke-width="0.9"/>
<circle cx="130.70" cy="577.60" r="1.65" fill="#fff" stroke="#111" stroke-width="0.9"/>
<circle cx="134.90" cy="572.60" r="1.65" fill="#fff" stroke="#111" stroke-width="0.9"/>
<circle cx="134.90" cy="576.10" r="1.65" fill="#fff" stroke="#111" stroke-width="0.9"/>
<circle cx="139.10" cy="576.60" r="1.65" fill="#fff" stroke="#111" stroke-width="0.9"/>
<circle cx="151.00" cy="577.60" r="1.65" fill="#fff" stroke="#111" stroke-width="0.9"/>
<circle cx="154.80" cy="571.80" r="1.65" fill="#fff" stroke="#111" stroke-width="0.9"/>
<circle cx="159.00" cy="578.00" r="1.65" fill="#fff" stroke="#111" stroke-width="0.9"/>
<circle cx="155.20" cy="582.00" r="1.65" fill="#fff" stroke="#111" stroke-width="0.9"/>
<line x1="54.60" y1="487.30" x2="155.10" y2="487.30" stroke="#666" stroke-width="1"/>
<text x="105.30" y="484.50" font-size="9.0" text-anchor="middle" fill="#333">p = 0.2219</text>
<line x1="54.60" y1="500.30" x2="135.30" y2="500.30" stroke="#666" stroke-width="1"/>
<text x="95.00" y="497.90" font-size="9.0" text-anchor="middle" fill="#333">p = 0.2139</text>
<line x1="54.60" y1="514.00" x2="114.90" y2="514.00" stroke="#666" stroke-width="1"/>
<text x="85.10" y="511.60" font-size="9.0" text-anchor="middle" fill="#333">p = 0.0025</text>
<line x1="54.60" y1="527.10" x2="95.10" y2="527.10" stroke="#666" stroke-width="1"/>
<text x="74.90" y="524.70" font-size="9.0" text-anchor="middle" fill="#333">p = 0.0684</text>
<line x1="54.60" y1="543.30" x2="74.50" y2="543.30" stroke="#666" stroke-width="1"/>
<text x="65.30" y="540.90" font-size="9.0" text-anchor="middle" fill="#333">p = 0.0095</text>
<line x1="55.00" y1="629.20" x2="55.00" y2="632.60" stroke="#1a1a1a" stroke-width="1"/>
<line x1="75.00" y1="629.20" x2="75.00" y2="632.60" stroke="#1a1a1a" stroke-width="1"/>
<line x1="95.00" y1="629.20" x2="95.00" y2="632.60" stroke="#1a1a1a" stroke-width="1"/>
<line x1="115.00" y1="629.20" x2="115.00" y2="632.60" stroke="#1a1a1a" stroke-width="1"/>
<line x1="135.00" y1="629.20" x2="135.00" y2="632.60" stroke="#1a1a1a" stroke-width="1"/>
<line x1="155.00" y1="629.20" x2="155.00" y2="632.60" stroke="#1a1a1a" stroke-width="1"/>
<text x="8.90" y="573.80" font-size="10" text-anchor="middle" fill="#222" transform="rotate(-90 8.90 573.80)">Relative MFI of</text>
<text x="21.20" y="573.80" font-size="10" text-anchor="middle" fill="#222" transform="rotate(-90 21.20 573.80)">ATF4-mScarlet</text>
<text x="172.60" y="645.20" font-size="10" text-anchor="start" fill="#111">DMSO</text>
<text x="54.60" y="645.20" font-size="9.8" text-anchor="middle" fill="#111">+</text>
<text x="75.00" y="645.20" font-size="9.8" text-anchor="middle" fill="#111">-</text>
<text x="95.00" y="645.20" font-size="9.8" text-anchor="middle" fill="#111">-</text>
<text x="115.00" y="645.20" font-size="9.8" text-anchor="middle" fill="#111">-</text>
<text x="135.00" y="645.20" font-size="9.8" text-anchor="middle" fill="#111">-</text>
<text x="155.00" y="645.20" font-size="9.8" text-anchor="middle" fill="#111">-</text>
<text x="172.60" y="656.80" font-size="10" text-anchor="start" fill="#111">AZD1775 (nM)</text>
<text x="55.00" y="656.80" font-size="9.8" text-anchor="middle" fill="#111">-</text>
<text x="72.00" y="656.80" font-size="9.8" text-anchor="middle" fill="#111">125</text>
<text x="95.00" y="656.80" font-size="9.8" text-anchor="middle" fill="#111">-</text>
<text x="115.00" y="656.80" font-size="9.8" text-anchor="middle" fill="#111">-</text>
<text x="135.00" y="656.80" font-size="9.8" text-anchor="middle" fill="#111">-</text>
<text x="155.00" y="656.80" font-size="9.8" text-anchor="middle" fill="#111">-</text>
<text x="172.60" y="668.40" font-size="10" text-anchor="start" fill="#111">Debio 0123 (nM)</text>
<text x="55.00" y="668.80" font-size="9.8" text-anchor="middle" fill="#111">-</text>
<text x="75.00" y="668.80" font-size="9.8" text-anchor="middle" fill="#111">-</text>
<text x="93.60" y="668.80" font-size="9.8" text-anchor="middle" fill="#111">1000</text>
<text x="117.70" y="668.80" font-size="9.8" text-anchor="middle" fill="#111">250</text>
<text x="135.00" y="668.80" font-size="9.8" text-anchor="middle" fill="#111">-</text>
<text x="155.10" y="668.80" font-size="9.8" text-anchor="middle" fill="#111">250</text>
<text x="172.60" y="679.80" font-size="10" text-anchor="start" fill="#111">RP-6306 (nM)</text>
<text x="55.00" y="679.80" font-size="9.8" text-anchor="middle" fill="#111">-</text>
<text x="75.00" y="679.80" font-size="9.8" text-anchor="middle" fill="#111">-</text>
<text x="95.00" y="679.80" font-size="9.8" text-anchor="middle" fill="#111">-</text>
<text x="115.00" y="679.80" font-size="9.8" text-anchor="middle" fill="#111">-</text>
<text x="134.90" y="679.80" font-size="9.8" text-anchor="middle" fill="#111">60</text>
<text x="155.20" y="679.80" font-size="9.8" text-anchor="middle" fill="#111">60</text>
</svg></body></html>
